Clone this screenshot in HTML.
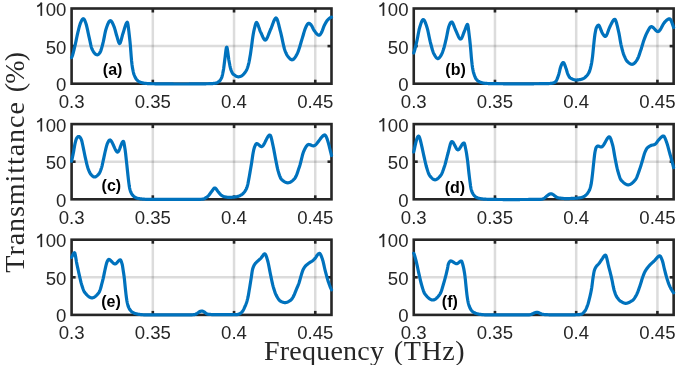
<!DOCTYPE html>
<html><head><meta charset="utf-8"><style>
html,body{margin:0;padding:0;background:#fff;width:685px;height:365px;overflow:hidden}
svg{display:block;will-change:transform}
.tk{font-family:"Liberation Sans",sans-serif;font-size:18.6px;fill:#262626}
.pl{font-family:"Liberation Sans",sans-serif;font-size:16px;font-weight:bold;fill:#000}
.al{font-family:"Liberation Serif",serif;font-size:28px;fill:#262626}
</style></head><body>
<svg width="685" height="365" viewBox="0 0 685 365"><rect width="685" height="365" fill="#fff"/><line x1="152.82" y1="8.50" x2="152.82" y2="83.70" stroke="#262626" stroke-opacity="0.16" stroke-width="2.5"/><line x1="234.04" y1="8.50" x2="234.04" y2="83.70" stroke="#262626" stroke-opacity="0.16" stroke-width="2.5"/><line x1="315.26" y1="8.50" x2="315.26" y2="83.70" stroke="#262626" stroke-opacity="0.16" stroke-width="2.5"/><line x1="71.60" y1="46.10" x2="331.50" y2="46.10" stroke="#262626" stroke-opacity="0.16" stroke-width="2.5"/><rect x="71.60" y="8.50" width="259.90" height="75.20" fill="none" stroke="#262626" stroke-width="2.6"/><line x1="152.82" y1="83.70" x2="152.82" y2="79.70" stroke="#262626" stroke-width="2.6"/><line x1="152.82" y1="8.50" x2="152.82" y2="12.50" stroke="#262626" stroke-width="2.6"/><line x1="234.04" y1="83.70" x2="234.04" y2="79.70" stroke="#262626" stroke-width="2.6"/><line x1="234.04" y1="8.50" x2="234.04" y2="12.50" stroke="#262626" stroke-width="2.6"/><line x1="315.26" y1="83.70" x2="315.26" y2="79.70" stroke="#262626" stroke-width="2.6"/><line x1="315.26" y1="8.50" x2="315.26" y2="12.50" stroke="#262626" stroke-width="2.6"/><line x1="71.60" y1="46.10" x2="75.60" y2="46.10" stroke="#262626" stroke-width="2.6"/><line x1="331.50" y1="46.10" x2="327.50" y2="46.10" stroke="#262626" stroke-width="2.6"/><text x="71.60" y="107.90" text-anchor="middle" class="tk">0.3</text><text x="152.82" y="107.90" text-anchor="middle" class="tk">0.35</text><text x="234.04" y="107.90" text-anchor="middle" class="tk">0.4</text><text x="315.26" y="107.90" text-anchor="middle" class="tk">0.45</text><text x="66.40" y="91.10" text-anchor="end" class="tk">0</text><text x="66.40" y="53.50" text-anchor="end" class="tk">50</text><text x="66.40" y="15.90" text-anchor="end" class="tk">00</text><path d="M41.30,2.70 V15.90" stroke="#262626" stroke-width="1.75" fill="none"/><path d="M41.70,2.80 Q40.00,5.20 37.20,6.50" stroke="#262626" stroke-width="1.7" fill="none"/><path d="M71.60,57.50 L72.00,56.80 L72.40,55.71 L72.80,54.43 L73.20,52.99 L73.60,51.43 L74.00,49.80 L74.40,48.12 L74.80,46.43 L75.20,44.76 L75.60,42.98 L76.00,41.11 L76.40,39.20 L76.80,37.28 L77.20,35.39 L77.60,33.59 L78.00,31.90 L78.40,30.28 L78.80,28.67 L79.20,27.11 L79.60,25.66 L80.00,24.36 L80.40,23.24 L80.80,22.30 L81.20,21.40 L81.60,20.57 L82.00,19.86 L82.40,19.29 L82.80,18.89 L83.20,18.71 L83.60,18.78 L84.00,19.13 L84.40,19.73 L84.80,20.52 L85.20,21.47 L85.60,22.55 L86.00,23.70 L86.40,25.02 L86.80,26.59 L87.20,28.34 L87.60,30.20 L88.00,32.11 L88.40,34.01 L88.80,35.84 L89.20,37.57 L89.60,39.40 L90.00,41.29 L90.40,43.18 L90.80,44.97 L91.20,46.59 L91.60,47.96 L92.00,49.00 L92.40,49.82 L92.80,50.58 L93.20,51.29 L93.60,51.93 L94.00,52.52 L94.40,53.05 L94.80,53.51 L95.20,53.90 L95.60,54.23 L96.00,54.48 L96.40,54.67 L96.80,54.77 L97.20,54.80 L97.60,54.73 L98.00,54.56 L98.40,54.30 L98.80,53.96 L99.20,53.54 L99.60,53.05 L100.00,52.50 L100.40,51.78 L100.80,50.80 L101.20,49.62 L101.60,48.27 L102.00,46.82 L102.40,45.30 L102.80,43.76 L103.20,42.20 L103.60,40.40 L104.00,38.41 L104.40,36.33 L104.80,34.26 L105.20,32.32 L105.60,30.60 L106.00,29.20 L106.40,28.01 L106.80,26.85 L107.20,25.74 L107.60,24.69 L108.00,23.72 L108.40,22.86 L108.80,22.11 L109.20,21.50 L109.60,21.05 L110.00,20.77 L110.40,20.69 L110.80,20.81 L111.20,21.10 L111.60,21.56 L112.00,22.15 L112.40,22.86 L112.80,23.67 L113.20,24.56 L113.60,25.51 L114.00,26.50 L114.40,27.61 L114.80,28.89 L115.20,30.30 L115.60,31.78 L116.00,33.27 L116.40,34.72 L116.80,36.07 L117.20,37.33 L117.60,38.71 L118.00,40.12 L118.40,41.44 L118.80,42.54 L119.20,43.28 L119.60,43.53 L120.00,43.21 L120.40,42.45 L120.80,41.33 L121.20,39.97 L121.60,38.44 L122.00,36.86 L122.40,35.32 L122.80,33.92 L123.20,32.70 L123.60,31.44 L124.00,30.12 L124.40,28.78 L124.80,27.47 L125.20,26.22 L125.60,25.07 L126.00,24.05 L126.40,23.21 L126.80,22.58 L127.20,22.20 L127.60,22.75 L128.00,24.64 L128.40,27.48 L128.80,30.91 L129.20,34.54 L129.60,38.00 L130.00,41.70 L130.40,46.00 L130.80,51.02 L131.20,56.41 L131.60,61.00 L132.00,64.51 L132.40,67.37 L132.80,69.53 L133.20,71.50 L133.60,73.22 L134.00,74.50 L134.40,75.49 L134.80,76.44 L135.20,77.33 L135.60,78.12 L136.00,78.78 L136.40,79.30 L136.80,79.73 L137.20,80.15 L137.60,80.55 L138.00,80.91 L138.40,81.23 L138.80,81.49 L139.20,81.70 L139.60,81.89 L140.00,82.07 L140.40,82.24 L140.80,82.39 L141.20,82.52 L141.60,82.62 L142.00,82.72 L142.40,82.82 L142.80,82.91 L143.20,83.00 L143.60,83.08 L144.00,83.16 L144.40,83.22 L144.80,83.28 L145.20,83.32 L145.60,83.36 L146.00,83.40 L146.40,83.45 L146.80,83.49 L147.20,83.53 L147.60,83.56 L148.00,83.60 L148.40,83.63 L148.80,83.65 L149.20,83.67 L149.60,83.69 L150.00,83.70 L150.40,83.71 L150.80,83.71 L151.20,83.72 L151.60,83.73 L152.00,83.73 L152.40,83.74 L152.80,83.75 L153.20,83.75 L153.60,83.76 L154.00,83.77 L154.40,83.77 L154.80,83.78 L155.20,83.79 L155.60,83.79 L156.00,83.80 L156.40,83.80 L156.80,83.81 L157.20,83.82 L157.60,83.82 L158.00,83.83 L158.40,83.83 L158.80,83.84 L159.20,83.84 L159.60,83.85 L160.00,83.85 L160.40,83.86 L160.80,83.86 L161.20,83.87 L161.60,83.87 L162.00,83.88 L162.40,83.88 L162.80,83.89 L163.20,83.89 L163.60,83.90 L164.00,83.90 L164.40,83.90 L164.80,83.91 L165.20,83.91 L165.60,83.92 L166.00,83.92 L166.40,83.92 L166.80,83.93 L167.20,83.93 L167.60,83.93 L168.00,83.94 L168.40,83.94 L168.80,83.94 L169.20,83.95 L169.60,83.95 L170.00,83.95 L170.40,83.96 L170.80,83.96 L171.20,83.96 L171.60,83.96 L172.00,83.97 L172.40,83.97 L172.80,83.97 L173.20,83.97 L173.60,83.98 L174.00,83.98 L174.40,83.98 L174.80,83.98 L175.20,83.98 L175.60,83.98 L176.00,83.99 L176.40,83.99 L176.80,83.99 L177.20,83.99 L177.60,83.99 L178.00,83.99 L178.40,83.99 L178.80,83.99 L179.20,83.99 L179.60,83.99 L180.00,83.99 L180.40,83.99 L180.80,83.99 L181.20,83.99 L181.60,83.99 L182.00,83.99 L182.40,83.99 L182.80,83.99 L183.20,83.99 L183.60,83.99 L184.00,83.99 L184.40,83.99 L184.80,83.99 L185.20,83.99 L185.60,83.99 L186.00,83.99 L186.40,83.99 L186.80,83.98 L187.20,83.98 L187.60,83.98 L188.00,83.98 L188.40,83.98 L188.80,83.98 L189.20,83.97 L189.60,83.97 L190.00,83.97 L190.40,83.97 L190.80,83.96 L191.20,83.96 L191.60,83.96 L192.00,83.96 L192.40,83.95 L192.80,83.95 L193.20,83.95 L193.60,83.94 L194.00,83.94 L194.40,83.94 L194.80,83.93 L195.20,83.93 L195.60,83.92 L196.00,83.92 L196.40,83.92 L196.80,83.91 L197.20,83.91 L197.60,83.90 L198.00,83.90 L198.40,83.89 L198.80,83.89 L199.20,83.88 L199.60,83.88 L200.00,83.87 L200.40,83.87 L200.80,83.86 L201.20,83.86 L201.60,83.85 L202.00,83.84 L202.40,83.84 L202.80,83.83 L203.20,83.83 L203.60,83.82 L204.00,83.81 L204.40,83.81 L204.80,83.80 L205.20,83.79 L205.60,83.79 L206.00,83.78 L206.40,83.77 L206.80,83.76 L207.20,83.76 L207.60,83.75 L208.00,83.74 L208.40,83.73 L208.80,83.72 L209.20,83.72 L209.60,83.71 L210.00,83.70 L210.40,83.69 L210.80,83.67 L211.20,83.65 L211.60,83.62 L212.00,83.60 L212.40,83.57 L212.80,83.54 L213.20,83.50 L213.60,83.45 L214.00,83.40 L214.40,83.34 L214.80,83.28 L215.20,83.22 L215.60,83.16 L216.00,83.10 L216.40,83.01 L216.80,82.86 L217.20,82.68 L217.60,82.46 L218.00,82.22 L218.40,81.97 L218.80,81.72 L219.20,81.46 L219.60,81.08 L220.00,80.58 L220.40,79.98 L220.80,79.30 L221.20,78.57 L221.60,77.79 L222.00,76.66 L222.40,75.12 L222.80,73.26 L223.20,71.17 L223.60,68.91 L224.00,66.06 L224.40,62.78 L224.80,59.50 L225.20,56.46 L225.60,53.00 L226.00,49.75 L226.40,47.52 L226.80,47.09 L227.20,48.34 L227.60,50.67 L228.00,53.65 L228.40,56.82 L228.80,59.75 L229.20,62.00 L229.60,64.07 L230.00,66.09 L230.40,67.89 L230.80,69.32 L231.20,70.37 L231.60,71.35 L232.00,72.24 L232.40,73.03 L232.80,73.67 L233.20,74.14 L233.60,74.44 L234.00,74.71 L234.40,74.99 L234.80,75.27 L235.20,75.54 L235.60,75.79 L236.00,76.03 L236.40,76.25 L236.80,76.44 L237.20,76.59 L237.60,76.71 L238.00,76.78 L238.40,76.80 L238.80,76.78 L239.20,76.73 L239.60,76.65 L240.00,76.55 L240.40,76.43 L240.80,76.28 L241.20,76.11 L241.60,75.88 L242.00,75.61 L242.40,75.30 L242.80,74.97 L243.20,74.62 L243.60,74.22 L244.00,73.77 L244.40,73.27 L244.80,72.76 L245.20,72.23 L245.60,71.63 L246.00,70.95 L246.40,70.21 L246.80,69.42 L247.20,68.54 L247.60,67.44 L248.00,66.13 L248.40,64.66 L248.80,63.09 L249.20,61.25 L249.60,59.12 L250.00,56.80 L250.40,54.39 L250.80,51.74 L251.20,48.90 L251.60,46.00 L252.00,42.95 L252.40,39.82 L252.80,37.00 L253.20,34.53 L253.60,32.26 L254.00,30.32 L254.40,28.72 L254.80,27.08 L255.20,25.46 L255.60,24.05 L256.00,22.99 L256.40,22.46 L256.80,22.60 L257.20,23.15 L257.60,23.93 L258.00,24.90 L258.40,25.99 L258.80,27.16 L259.20,28.36 L259.60,29.53 L260.00,30.62 L260.40,31.58 L260.80,32.40 L261.20,33.25 L261.60,34.16 L262.00,35.08 L262.40,36.00 L262.80,36.88 L263.20,37.71 L263.60,38.46 L264.00,39.09 L264.40,39.59 L264.80,39.92 L265.20,40.07 L265.60,40.00 L266.00,39.71 L266.40,39.24 L266.80,38.61 L267.20,37.84 L267.60,36.96 L268.00,36.00 L268.40,34.99 L268.80,33.94 L269.20,32.88 L269.60,31.84 L270.00,30.84 L270.40,29.92 L270.80,29.03 L271.20,28.06 L271.60,27.02 L272.00,25.95 L272.40,24.85 L272.80,23.76 L273.20,22.70 L273.60,21.68 L274.00,20.74 L274.40,19.89 L274.80,19.16 L275.20,18.57 L275.60,18.15 L276.00,17.93 L276.40,18.10 L276.80,18.63 L277.20,19.48 L277.60,20.58 L278.00,21.89 L278.40,23.36 L278.80,24.94 L279.20,26.57 L279.60,28.21 L280.00,29.80 L280.40,31.30 L280.80,32.82 L281.20,34.51 L281.60,36.32 L282.00,38.20 L282.40,40.12 L282.80,42.03 L283.20,43.89 L283.60,45.66 L284.00,47.29 L284.40,48.76 L284.80,50.00 L285.20,51.09 L285.60,52.10 L286.00,53.04 L286.40,53.90 L286.80,54.68 L287.20,55.38 L287.60,55.98 L288.00,56.50 L288.40,56.97 L288.80,57.44 L289.20,57.90 L289.60,58.33 L290.00,58.73 L290.40,59.08 L290.80,59.37 L291.20,59.59 L291.60,59.74 L292.00,59.80 L292.40,59.76 L292.80,59.63 L293.20,59.40 L293.60,59.10 L294.00,58.72 L294.40,58.27 L294.80,57.75 L295.20,57.18 L295.60,56.56 L296.00,55.90 L296.40,55.19 L296.80,54.46 L297.20,53.69 L297.60,52.88 L298.00,51.94 L298.40,50.89 L298.80,49.75 L299.20,48.53 L299.60,47.25 L300.00,45.92 L300.40,44.56 L300.80,43.19 L301.20,41.82 L301.60,40.47 L302.00,39.15 L302.40,37.88 L302.80,36.57 L303.20,35.19 L303.60,33.80 L304.00,32.42 L304.40,31.09 L304.80,29.85 L305.20,28.73 L305.60,27.77 L306.00,26.88 L306.40,26.03 L306.80,25.25 L307.20,24.57 L307.60,24.00 L308.00,23.59 L308.40,23.35 L308.80,23.30 L309.20,23.37 L309.60,23.55 L310.00,23.83 L310.40,24.19 L310.80,24.62 L311.20,25.10 L311.60,25.64 L312.00,26.31 L312.40,27.10 L312.80,27.94 L313.20,28.78 L313.60,29.55 L314.00,30.20 L314.40,30.76 L314.80,31.32 L315.20,31.87 L315.60,32.41 L316.00,32.91 L316.40,33.39 L316.80,33.82 L317.20,34.21 L317.60,34.55 L318.00,34.82 L318.40,35.03 L318.80,35.16 L319.20,35.20 L319.60,35.04 L320.00,34.70 L320.40,34.22 L320.80,33.64 L321.20,33.00 L321.60,32.32 L322.00,31.49 L322.40,30.48 L322.80,29.38 L323.20,28.24 L323.60,27.14 L324.00,26.14 L324.40,25.31 L324.80,24.53 L325.20,23.77 L325.60,23.04 L326.00,22.34 L326.40,21.67 L326.80,21.06 L327.20,20.51 L327.60,20.02 L328.00,19.60 L328.40,19.23 L328.80,18.86 L329.20,18.51 L329.60,18.18 L330.00,17.88 L330.40,17.63 L330.80,17.42 L331.20,17.27 L331.50,17.20" fill="none" stroke="#0072BD" stroke-width="3.2" stroke-linejoin="round" stroke-linecap="round"/><line x1="494.97" y1="8.50" x2="494.97" y2="83.70" stroke="#262626" stroke-opacity="0.16" stroke-width="2.5"/><line x1="576.19" y1="8.50" x2="576.19" y2="83.70" stroke="#262626" stroke-opacity="0.16" stroke-width="2.5"/><line x1="657.41" y1="8.50" x2="657.41" y2="83.70" stroke="#262626" stroke-opacity="0.16" stroke-width="2.5"/><line x1="413.75" y1="46.10" x2="673.65" y2="46.10" stroke="#262626" stroke-opacity="0.16" stroke-width="2.5"/><rect x="413.75" y="8.50" width="259.90" height="75.20" fill="none" stroke="#262626" stroke-width="2.6"/><line x1="494.97" y1="83.70" x2="494.97" y2="79.70" stroke="#262626" stroke-width="2.6"/><line x1="494.97" y1="8.50" x2="494.97" y2="12.50" stroke="#262626" stroke-width="2.6"/><line x1="576.19" y1="83.70" x2="576.19" y2="79.70" stroke="#262626" stroke-width="2.6"/><line x1="576.19" y1="8.50" x2="576.19" y2="12.50" stroke="#262626" stroke-width="2.6"/><line x1="657.41" y1="83.70" x2="657.41" y2="79.70" stroke="#262626" stroke-width="2.6"/><line x1="657.41" y1="8.50" x2="657.41" y2="12.50" stroke="#262626" stroke-width="2.6"/><line x1="413.75" y1="46.10" x2="417.75" y2="46.10" stroke="#262626" stroke-width="2.6"/><line x1="673.65" y1="46.10" x2="669.65" y2="46.10" stroke="#262626" stroke-width="2.6"/><text x="413.75" y="107.90" text-anchor="middle" class="tk">0.3</text><text x="494.97" y="107.90" text-anchor="middle" class="tk">0.35</text><text x="576.19" y="107.90" text-anchor="middle" class="tk">0.4</text><text x="657.41" y="107.90" text-anchor="middle" class="tk">0.45</text><text x="408.55" y="91.10" text-anchor="end" class="tk">0</text><text x="408.55" y="53.50" text-anchor="end" class="tk">50</text><text x="408.55" y="15.90" text-anchor="end" class="tk">00</text><path d="M383.45,2.70 V15.90" stroke="#262626" stroke-width="1.75" fill="none"/><path d="M383.85,2.80 Q382.15,5.20 379.35,6.50" stroke="#262626" stroke-width="1.7" fill="none"/><path d="M413.75,53.00 L414.15,51.84 L414.55,50.46 L414.95,49.00 L415.35,47.45 L415.75,45.84 L416.15,44.18 L416.55,42.48 L416.95,40.73 L417.35,38.80 L417.75,36.70 L418.15,34.55 L418.55,32.44 L418.95,30.47 L419.35,28.73 L419.75,27.29 L420.15,25.94 L420.55,24.65 L420.95,23.44 L421.35,22.33 L421.75,21.38 L422.15,20.59 L422.55,20.02 L422.95,19.68 L423.35,19.61 L423.75,19.80 L424.15,20.22 L424.55,20.84 L424.95,21.64 L425.35,22.59 L425.75,23.66 L426.15,24.82 L426.55,26.05 L426.95,27.32 L427.35,28.66 L427.75,30.22 L428.15,31.98 L428.55,33.86 L428.95,35.81 L429.35,37.75 L429.75,39.64 L430.15,41.40 L430.55,42.99 L430.95,44.50 L431.35,46.02 L431.75,47.51 L432.15,48.95 L432.55,50.30 L432.95,51.53 L433.35,52.61 L433.75,53.51 L434.15,54.25 L434.55,54.97 L434.95,55.66 L435.35,56.31 L435.75,56.91 L436.15,57.44 L436.55,57.89 L436.95,58.25 L437.35,58.49 L437.75,58.60 L438.15,58.57 L438.55,58.40 L438.95,58.09 L439.35,57.69 L439.75,57.21 L440.15,56.68 L440.55,56.11 L440.95,55.52 L441.35,54.81 L441.75,53.98 L442.15,53.06 L442.55,52.05 L442.95,50.97 L443.35,49.84 L443.75,48.62 L444.15,47.23 L444.55,45.71 L444.95,44.09 L445.35,42.41 L445.75,40.71 L446.15,39.01 L446.55,37.22 L446.95,35.23 L447.35,33.14 L447.75,31.08 L448.15,29.17 L448.55,27.53 L448.95,26.26 L449.35,25.22 L449.75,24.27 L450.15,23.44 L450.55,22.77 L450.95,22.28 L451.35,22.01 L451.75,21.98 L452.15,22.23 L452.55,22.76 L452.95,23.49 L453.35,24.37 L453.75,25.35 L454.15,26.40 L454.55,27.47 L454.95,28.52 L455.35,29.51 L455.75,30.40 L456.15,31.24 L456.55,32.14 L456.95,33.08 L457.35,34.04 L457.75,34.99 L458.15,35.90 L458.55,36.74 L458.95,37.49 L459.35,38.12 L459.75,38.61 L460.15,38.92 L460.55,39.04 L460.95,38.93 L461.35,38.55 L461.75,37.93 L462.15,37.13 L462.55,36.18 L462.95,35.13 L463.35,34.02 L463.75,32.91 L464.15,31.83 L464.55,30.84 L464.95,29.91 L465.35,28.86 L465.75,27.74 L466.15,26.64 L466.55,25.65 L466.95,24.86 L467.35,24.34 L467.75,24.78 L468.15,26.79 L468.55,29.78 L468.95,33.18 L469.35,36.38 L469.75,39.71 L470.15,43.49 L470.55,47.62 L470.95,52.47 L471.35,57.35 L471.75,61.42 L472.15,64.90 L472.55,67.71 L472.95,69.90 L473.35,71.83 L473.75,73.35 L474.15,74.53 L474.55,75.67 L474.95,76.74 L475.35,77.68 L475.75,78.44 L476.15,78.99 L476.55,79.48 L476.95,79.95 L477.35,80.38 L477.75,80.77 L478.15,81.08 L478.55,81.33 L478.95,81.53 L479.35,81.74 L479.75,81.93 L480.15,82.11 L480.55,82.26 L480.95,82.39 L481.35,82.49 L481.75,82.61 L482.15,82.72 L482.55,82.83 L482.95,82.93 L483.35,83.03 L483.75,83.11 L484.15,83.19 L484.55,83.25 L484.95,83.30 L485.35,83.33 L485.75,83.36 L486.15,83.39 L486.55,83.42 L486.95,83.45 L487.35,83.48 L487.75,83.51 L488.15,83.53 L488.55,83.55 L488.95,83.57 L489.35,83.58 L489.75,83.59 L490.15,83.60 L490.55,83.61 L490.95,83.62 L491.35,83.62 L491.75,83.63 L492.15,83.64 L492.55,83.64 L492.95,83.65 L493.35,83.66 L493.75,83.66 L494.15,83.67 L494.55,83.67 L494.95,83.68 L495.35,83.69 L495.75,83.69 L496.15,83.70 L496.55,83.70 L496.95,83.71 L497.35,83.71 L497.75,83.72 L498.15,83.72 L498.55,83.73 L498.95,83.73 L499.35,83.74 L499.75,83.74 L500.15,83.75 L500.55,83.75 L500.95,83.75 L501.35,83.76 L501.75,83.76 L502.15,83.77 L502.55,83.77 L502.95,83.77 L503.35,83.78 L503.75,83.78 L504.15,83.79 L504.55,83.79 L504.95,83.79 L505.35,83.80 L505.75,83.80 L506.15,83.80 L506.55,83.80 L506.95,83.81 L507.35,83.81 L507.75,83.81 L508.15,83.81 L508.55,83.82 L508.95,83.82 L509.35,83.82 L509.75,83.82 L510.15,83.83 L510.55,83.83 L510.95,83.83 L511.35,83.83 L511.75,83.83 L512.15,83.83 L512.55,83.84 L512.95,83.84 L513.35,83.84 L513.75,83.84 L514.15,83.84 L514.55,83.84 L514.95,83.84 L515.35,83.84 L515.75,83.84 L516.15,83.84 L516.55,83.84 L516.95,83.85 L517.35,83.85 L517.75,83.85 L518.15,83.85 L518.55,83.85 L518.95,83.85 L519.35,83.85 L519.75,83.85 L520.15,83.85 L520.55,83.84 L520.95,83.84 L521.35,83.84 L521.75,83.84 L522.15,83.84 L522.55,83.84 L522.95,83.84 L523.35,83.84 L523.75,83.84 L524.15,83.84 L524.55,83.83 L524.95,83.83 L525.35,83.83 L525.75,83.83 L526.15,83.83 L526.55,83.83 L526.95,83.82 L527.35,83.82 L527.75,83.82 L528.15,83.82 L528.55,83.82 L528.95,83.81 L529.35,83.81 L529.75,83.81 L530.15,83.81 L530.55,83.80 L530.95,83.80 L531.35,83.80 L531.75,83.79 L532.15,83.79 L532.55,83.79 L532.95,83.78 L533.35,83.78 L533.75,83.78 L534.15,83.77 L534.55,83.77 L534.95,83.77 L535.35,83.76 L535.75,83.76 L536.15,83.76 L536.55,83.75 L536.95,83.75 L537.35,83.74 L537.75,83.74 L538.15,83.73 L538.55,83.73 L538.95,83.73 L539.35,83.72 L539.75,83.72 L540.15,83.71 L540.55,83.71 L540.95,83.70 L541.35,83.70 L541.75,83.69 L542.15,83.69 L542.55,83.68 L542.95,83.68 L543.35,83.67 L543.75,83.66 L544.15,83.66 L544.55,83.65 L544.95,83.65 L545.35,83.64 L545.75,83.64 L546.15,83.63 L546.55,83.62 L546.95,83.62 L547.35,83.61 L547.75,83.60 L548.15,83.60 L548.55,83.58 L548.95,83.56 L549.35,83.52 L549.75,83.49 L550.15,83.45 L550.55,83.40 L550.95,83.36 L551.35,83.32 L551.75,83.27 L552.15,83.20 L552.55,83.12 L552.95,83.01 L553.35,82.89 L553.75,82.76 L554.15,82.62 L554.55,82.47 L554.95,82.32 L555.35,82.06 L555.75,81.57 L556.15,80.98 L556.55,80.29 L556.95,79.44 L557.35,78.45 L557.75,77.35 L558.15,76.18 L558.55,74.97 L558.95,73.71 L559.35,72.17 L559.75,70.44 L560.15,68.73 L560.55,67.24 L560.95,66.12 L561.35,65.13 L561.75,64.23 L562.15,63.47 L562.55,62.91 L562.95,62.58 L563.35,62.55 L563.75,62.86 L564.15,63.48 L564.55,64.36 L564.95,65.40 L565.35,66.54 L565.75,67.70 L566.15,68.83 L566.55,70.09 L566.95,71.44 L567.35,72.73 L567.75,73.85 L568.15,74.74 L568.55,75.57 L568.95,76.33 L569.35,77.00 L569.75,77.54 L570.15,77.91 L570.55,78.13 L570.95,78.33 L571.35,78.53 L571.75,78.73 L572.15,78.93 L572.55,79.11 L572.95,79.29 L573.35,79.45 L573.75,79.59 L574.15,79.72 L574.55,79.83 L574.95,79.91 L575.35,79.97 L575.75,80.00 L576.15,80.00 L576.55,79.98 L576.95,79.96 L577.35,79.93 L577.75,79.90 L578.15,79.86 L578.55,79.81 L578.95,79.76 L579.35,79.71 L579.75,79.64 L580.15,79.57 L580.55,79.49 L580.95,79.39 L581.35,79.28 L581.75,79.16 L582.15,79.02 L582.55,78.88 L582.95,78.72 L583.35,78.56 L583.75,78.38 L584.15,78.14 L584.55,77.84 L584.95,77.50 L585.35,77.12 L585.75,76.73 L586.15,76.34 L586.55,75.95 L586.95,75.53 L587.35,75.04 L587.75,74.50 L588.15,73.90 L588.55,73.26 L588.95,72.59 L589.35,71.76 L589.75,70.63 L590.15,69.27 L590.55,67.77 L590.95,66.20 L591.35,64.42 L591.75,62.19 L592.15,59.56 L592.55,56.61 L592.95,52.79 L593.35,48.49 L593.75,44.60 L594.15,40.79 L594.55,37.23 L594.95,34.30 L595.35,32.00 L595.75,29.97 L596.15,28.38 L596.55,27.41 L596.95,26.72 L597.35,26.08 L597.75,25.56 L598.15,25.24 L598.55,25.17 L598.95,25.44 L599.35,26.04 L599.75,26.84 L600.15,27.80 L600.55,28.84 L600.95,29.92 L601.35,30.97 L601.75,31.93 L602.15,32.74 L602.55,33.41 L602.95,34.06 L603.35,34.69 L603.75,35.27 L604.15,35.76 L604.55,36.13 L604.95,36.36 L605.35,36.40 L605.75,36.24 L606.15,35.83 L606.55,35.18 L606.95,34.35 L607.35,33.37 L607.75,32.30 L608.15,31.18 L608.55,30.05 L608.95,28.97 L609.35,27.97 L609.75,27.10 L610.15,26.27 L610.55,25.43 L610.95,24.58 L611.35,23.75 L611.75,22.94 L612.15,22.17 L612.55,21.46 L612.95,20.83 L613.35,20.28 L613.75,19.83 L614.15,19.51 L614.55,19.31 L614.95,19.37 L615.35,19.83 L615.75,20.62 L616.15,21.71 L616.55,23.03 L616.95,24.54 L617.35,26.18 L617.75,27.90 L618.15,29.65 L618.55,31.37 L618.95,33.13 L619.35,35.22 L619.75,37.55 L620.15,39.95 L620.55,42.27 L620.95,44.37 L621.35,46.12 L621.75,47.74 L622.15,49.30 L622.55,50.78 L622.95,52.17 L623.35,53.45 L623.75,54.62 L624.15,55.65 L624.55,56.57 L624.95,57.46 L625.35,58.33 L625.75,59.15 L626.15,59.90 L626.55,60.57 L626.95,61.12 L627.35,61.55 L627.75,61.91 L628.15,62.27 L628.55,62.61 L628.95,62.93 L629.35,63.23 L629.75,63.49 L630.15,63.73 L630.55,63.93 L630.95,64.10 L631.35,64.21 L631.75,64.29 L632.15,64.31 L632.55,64.27 L632.95,64.15 L633.35,63.97 L633.75,63.72 L634.15,63.41 L634.55,63.04 L634.95,62.62 L635.35,62.16 L635.75,61.66 L636.15,61.13 L636.55,60.56 L636.95,59.98 L637.35,59.36 L637.75,58.61 L638.15,57.73 L638.55,56.72 L638.95,55.63 L639.35,54.47 L639.75,53.27 L640.15,52.05 L640.55,50.84 L640.95,49.65 L641.35,48.43 L641.75,47.13 L642.15,45.80 L642.55,44.45 L642.95,43.11 L643.35,41.82 L643.75,40.61 L644.15,39.49 L644.55,38.41 L644.95,37.37 L645.35,36.36 L645.75,35.39 L646.15,34.47 L646.55,33.60 L646.95,32.79 L647.35,32.02 L647.75,31.24 L648.15,30.46 L648.55,29.70 L648.95,28.98 L649.35,28.33 L649.75,27.76 L650.15,27.29 L650.55,26.94 L650.95,26.74 L651.35,26.67 L651.75,26.70 L652.15,26.84 L652.55,27.06 L652.95,27.35 L653.35,27.70 L653.75,28.09 L654.15,28.52 L654.55,28.96 L654.95,29.41 L655.35,29.85 L655.75,30.26 L656.15,30.65 L656.55,30.98 L656.95,31.25 L657.35,31.44 L657.75,31.55 L658.15,31.55 L658.55,31.44 L658.95,31.19 L659.35,30.83 L659.75,30.35 L660.15,29.79 L660.55,29.15 L660.95,28.46 L661.35,27.72 L661.75,26.96 L662.15,26.20 L662.55,25.44 L662.95,24.72 L663.35,24.03 L663.75,23.41 L664.15,22.86 L664.55,22.38 L664.95,21.91 L665.35,21.47 L665.75,21.05 L666.15,20.65 L666.55,20.29 L666.95,19.96 L667.35,19.66 L667.75,19.41 L668.15,19.19 L668.55,19.02 L668.95,18.89 L669.35,18.82 L669.75,18.83 L670.15,19.10 L670.55,19.59 L670.95,20.28 L671.35,21.14 L671.75,22.12 L672.15,23.21 L672.55,24.37 L672.95,25.56 L673.35,26.76 L673.60,27.50" fill="none" stroke="#0072BD" stroke-width="3.2" stroke-linejoin="round" stroke-linecap="round"/><line x1="152.82" y1="124.10" x2="152.82" y2="199.30" stroke="#262626" stroke-opacity="0.16" stroke-width="2.5"/><line x1="234.04" y1="124.10" x2="234.04" y2="199.30" stroke="#262626" stroke-opacity="0.16" stroke-width="2.5"/><line x1="315.26" y1="124.10" x2="315.26" y2="199.30" stroke="#262626" stroke-opacity="0.16" stroke-width="2.5"/><line x1="71.60" y1="161.70" x2="331.50" y2="161.70" stroke="#262626" stroke-opacity="0.16" stroke-width="2.5"/><rect x="71.60" y="124.10" width="259.90" height="75.20" fill="none" stroke="#262626" stroke-width="2.6"/><line x1="152.82" y1="199.30" x2="152.82" y2="195.30" stroke="#262626" stroke-width="2.6"/><line x1="152.82" y1="124.10" x2="152.82" y2="128.10" stroke="#262626" stroke-width="2.6"/><line x1="234.04" y1="199.30" x2="234.04" y2="195.30" stroke="#262626" stroke-width="2.6"/><line x1="234.04" y1="124.10" x2="234.04" y2="128.10" stroke="#262626" stroke-width="2.6"/><line x1="315.26" y1="199.30" x2="315.26" y2="195.30" stroke="#262626" stroke-width="2.6"/><line x1="315.26" y1="124.10" x2="315.26" y2="128.10" stroke="#262626" stroke-width="2.6"/><line x1="71.60" y1="161.70" x2="75.60" y2="161.70" stroke="#262626" stroke-width="2.6"/><line x1="331.50" y1="161.70" x2="327.50" y2="161.70" stroke="#262626" stroke-width="2.6"/><text x="71.60" y="223.50" text-anchor="middle" class="tk">0.3</text><text x="152.82" y="223.50" text-anchor="middle" class="tk">0.35</text><text x="234.04" y="223.50" text-anchor="middle" class="tk">0.4</text><text x="315.26" y="223.50" text-anchor="middle" class="tk">0.45</text><text x="66.40" y="206.70" text-anchor="end" class="tk">0</text><text x="66.40" y="169.10" text-anchor="end" class="tk">50</text><text x="66.40" y="131.50" text-anchor="end" class="tk">00</text><path d="M41.30,118.30 V131.50" stroke="#262626" stroke-width="1.75" fill="none"/><path d="M41.70,118.40 Q40.00,120.80 37.20,122.10" stroke="#262626" stroke-width="1.7" fill="none"/><path d="M71.60,161.20 L72.00,159.41 L72.40,157.54 L72.80,155.60 L73.20,153.62 L73.60,151.58 L74.00,149.30 L74.40,146.91 L74.80,144.70 L75.20,142.89 L75.60,141.30 L76.00,139.89 L76.40,138.76 L76.80,138.00 L77.20,137.50 L77.60,137.07 L78.00,136.74 L78.40,136.54 L78.80,136.51 L79.20,136.63 L79.60,136.90 L80.00,137.31 L80.40,137.83 L80.80,138.47 L81.20,139.20 L81.60,140.26 L82.00,141.77 L82.40,143.58 L82.80,145.53 L83.20,147.44 L83.60,149.29 L84.00,151.24 L84.40,153.25 L84.80,155.24 L85.20,157.16 L85.60,158.93 L86.00,160.67 L86.40,162.39 L86.80,164.06 L87.20,165.63 L87.60,167.07 L88.00,168.34 L88.40,169.43 L88.80,170.45 L89.20,171.41 L89.60,172.30 L90.00,173.09 L90.40,173.76 L90.80,174.29 L91.20,174.71 L91.60,175.13 L92.00,175.53 L92.40,175.91 L92.80,176.25 L93.20,176.54 L93.60,176.77 L94.00,176.93 L94.40,177.00 L94.80,176.98 L95.20,176.89 L95.60,176.73 L96.00,176.52 L96.40,176.25 L96.80,175.94 L97.20,175.61 L97.60,175.25 L98.00,174.87 L98.40,174.49 L98.80,174.07 L99.20,173.50 L99.60,172.78 L100.00,171.95 L100.40,171.01 L100.80,169.99 L101.20,168.90 L101.60,167.61 L102.00,166.04 L102.40,164.30 L102.80,162.48 L103.20,160.70 L103.60,158.90 L104.00,157.02 L104.40,155.13 L104.80,153.27 L105.20,151.51 L105.60,149.86 L106.00,148.20 L106.40,146.61 L106.80,145.18 L107.20,143.98 L107.60,143.06 L108.00,142.22 L108.40,141.44 L108.80,140.79 L109.20,140.30 L109.60,140.01 L110.00,139.97 L110.40,140.17 L110.80,140.53 L111.20,141.02 L111.60,141.61 L112.00,142.31 L112.40,143.07 L112.80,143.90 L113.20,144.77 L113.60,145.67 L114.00,146.57 L114.40,147.46 L114.80,148.33 L115.20,149.15 L115.60,149.91 L116.00,150.60 L116.40,151.18 L116.80,151.66 L117.20,152.00 L117.60,152.11 L118.00,151.92 L118.40,151.48 L118.80,150.83 L119.20,150.00 L119.60,149.04 L120.00,147.99 L120.40,146.89 L120.80,145.79 L121.20,144.72 L121.60,143.73 L122.00,142.85 L122.40,142.13 L122.80,141.61 L123.20,141.33 L123.60,141.62 L124.00,143.04 L124.40,145.20 L124.80,147.73 L125.20,150.35 L125.60,153.54 L126.00,157.12 L126.40,160.80 L126.80,164.45 L127.20,168.24 L127.60,172.00 L128.00,175.74 L128.40,179.35 L128.80,182.58 L129.20,185.62 L129.60,188.05 L130.00,189.66 L130.40,191.00 L130.80,192.07 L131.20,192.89 L131.60,193.64 L132.00,194.32 L132.40,194.88 L132.80,195.33 L133.20,195.77 L133.60,196.20 L134.00,196.58 L134.40,196.92 L134.80,197.19 L135.20,197.39 L135.60,197.58 L136.00,197.75 L136.40,197.92 L136.80,198.07 L137.20,198.20 L137.60,198.31 L138.00,198.40 L138.40,198.47 L138.80,198.54 L139.20,198.61 L139.60,198.68 L140.00,198.75 L140.40,198.81 L140.80,198.86 L141.20,198.92 L141.60,198.96 L142.00,199.00 L142.40,199.04 L142.80,199.07 L143.20,199.11 L143.60,199.14 L144.00,199.18 L144.40,199.21 L144.80,199.24 L145.20,199.26 L145.60,199.28 L146.00,199.30 L146.40,199.31 L146.80,199.33 L147.20,199.34 L147.60,199.35 L148.00,199.36 L148.40,199.37 L148.80,199.38 L149.20,199.39 L149.60,199.39 L150.00,199.40 L150.40,199.40 L150.80,199.41 L151.20,199.41 L151.60,199.42 L152.00,199.42 L152.40,199.42 L152.80,199.43 L153.20,199.43 L153.60,199.43 L154.00,199.44 L154.40,199.44 L154.80,199.44 L155.20,199.44 L155.60,199.45 L156.00,199.45 L156.40,199.45 L156.80,199.45 L157.20,199.46 L157.60,199.46 L158.00,199.46 L158.40,199.46 L158.80,199.46 L159.20,199.46 L159.60,199.47 L160.00,199.47 L160.40,199.47 L160.80,199.47 L161.20,199.47 L161.60,199.47 L162.00,199.47 L162.40,199.47 L162.80,199.47 L163.20,199.47 L163.60,199.47 L164.00,199.47 L164.40,199.47 L164.80,199.47 L165.20,199.47 L165.60,199.47 L166.00,199.47 L166.40,199.47 L166.80,199.47 L167.20,199.47 L167.60,199.47 L168.00,199.47 L168.40,199.47 L168.80,199.47 L169.20,199.47 L169.60,199.47 L170.00,199.47 L170.40,199.47 L170.80,199.46 L171.20,199.46 L171.60,199.46 L172.00,199.46 L172.40,199.46 L172.80,199.46 L173.20,199.46 L173.60,199.45 L174.00,199.45 L174.40,199.45 L174.80,199.45 L175.20,199.45 L175.60,199.45 L176.00,199.44 L176.40,199.44 L176.80,199.44 L177.20,199.44 L177.60,199.44 L178.00,199.43 L178.40,199.43 L178.80,199.43 L179.20,199.43 L179.60,199.43 L180.00,199.42 L180.40,199.42 L180.80,199.42 L181.20,199.42 L181.60,199.41 L182.00,199.41 L182.40,199.41 L182.80,199.41 L183.20,199.40 L183.60,199.40 L184.00,199.40 L184.40,199.40 L184.80,199.39 L185.20,199.39 L185.60,199.39 L186.00,199.39 L186.40,199.38 L186.80,199.38 L187.20,199.38 L187.60,199.38 L188.00,199.37 L188.40,199.37 L188.80,199.37 L189.20,199.36 L189.60,199.36 L190.00,199.36 L190.40,199.36 L190.80,199.35 L191.20,199.35 L191.60,199.35 L192.00,199.35 L192.40,199.34 L192.80,199.34 L193.20,199.34 L193.60,199.34 L194.00,199.33 L194.40,199.33 L194.80,199.33 L195.20,199.33 L195.60,199.32 L196.00,199.32 L196.40,199.32 L196.80,199.32 L197.20,199.31 L197.60,199.31 L198.00,199.31 L198.40,199.31 L198.80,199.31 L199.20,199.30 L199.60,199.30 L200.00,199.30 L200.40,199.29 L200.80,199.28 L201.20,199.26 L201.60,199.24 L202.00,199.21 L202.40,199.18 L202.80,199.15 L203.20,199.11 L203.60,199.04 L204.00,198.90 L204.40,198.69 L204.80,198.44 L205.20,198.19 L205.60,197.94 L206.00,197.68 L206.40,197.41 L206.80,197.11 L207.20,196.79 L207.60,196.44 L208.00,196.08 L208.40,195.70 L208.80,195.30 L209.20,194.85 L209.60,194.34 L210.00,193.78 L210.40,193.20 L210.80,192.60 L211.20,192.03 L211.60,191.48 L212.00,190.98 L212.40,190.44 L212.80,189.88 L213.20,189.32 L213.60,188.81 L214.00,188.39 L214.40,188.10 L214.80,187.98 L215.20,188.07 L215.60,188.34 L216.00,188.75 L216.40,189.26 L216.80,189.84 L217.20,190.43 L217.60,191.00 L218.00,191.50 L218.40,191.97 L218.80,192.47 L219.20,192.98 L219.60,193.48 L220.00,193.95 L220.40,194.38 L220.80,194.76 L221.20,195.07 L221.60,195.35 L222.00,195.62 L222.40,195.86 L222.80,196.09 L223.20,196.30 L223.60,196.48 L224.00,196.64 L224.40,196.77 L224.80,196.86 L225.20,196.93 L225.60,197.00 L226.00,197.06 L226.40,197.12 L226.80,197.18 L227.20,197.24 L227.60,197.29 L228.00,197.33 L228.40,197.36 L228.80,197.39 L229.20,197.40 L229.60,197.40 L230.00,197.39 L230.40,197.38 L230.80,197.36 L231.20,197.34 L231.60,197.31 L232.00,197.28 L232.40,197.25 L232.80,197.22 L233.20,197.18 L233.60,197.14 L234.00,197.10 L234.40,197.06 L234.80,197.01 L235.20,196.96 L235.60,196.91 L236.00,196.86 L236.40,196.78 L236.80,196.69 L237.20,196.58 L237.60,196.47 L238.00,196.35 L238.40,196.23 L238.80,196.10 L239.20,195.96 L239.60,195.79 L240.00,195.60 L240.40,195.40 L240.80,195.19 L241.20,194.97 L241.60,194.74 L242.00,194.46 L242.40,194.13 L242.80,193.76 L243.20,193.35 L243.60,192.93 L244.00,192.50 L244.40,192.03 L244.80,191.47 L245.20,190.86 L245.60,190.19 L246.00,189.50 L246.40,188.69 L246.80,187.69 L247.20,186.50 L247.60,185.13 L248.00,183.37 L248.40,181.29 L248.80,179.09 L249.20,176.92 L249.60,174.69 L250.00,172.40 L250.40,170.08 L250.80,167.75 L251.20,165.39 L251.60,162.96 L252.00,160.36 L252.40,157.44 L252.80,154.67 L253.20,152.45 L253.60,150.48 L254.00,148.79 L254.40,147.46 L254.80,146.46 L255.20,145.49 L255.60,144.63 L256.00,143.97 L256.40,143.63 L256.80,143.59 L257.20,143.69 L257.60,143.88 L258.00,144.14 L258.40,144.47 L258.80,144.82 L259.20,145.20 L259.60,145.57 L260.00,145.91 L260.40,146.20 L260.80,146.43 L261.20,146.57 L261.60,146.60 L262.00,146.49 L262.40,146.25 L262.80,145.88 L263.20,145.40 L263.60,144.82 L264.00,144.17 L264.40,143.45 L264.80,142.68 L265.20,141.88 L265.60,141.06 L266.00,140.23 L266.40,139.41 L266.80,138.62 L267.20,137.87 L267.60,137.17 L268.00,136.55 L268.40,136.01 L268.80,135.57 L269.20,135.24 L269.60,135.05 L270.00,135.02 L270.40,135.42 L270.80,136.30 L271.20,137.57 L271.60,139.14 L272.00,140.90 L272.40,142.78 L272.80,144.68 L273.20,146.50 L273.60,148.37 L274.00,150.43 L274.40,152.61 L274.80,154.82 L275.20,157.01 L275.60,159.10 L276.00,161.10 L276.40,163.14 L276.80,165.16 L277.20,167.11 L277.60,168.91 L278.00,170.50 L278.40,171.86 L278.80,173.17 L279.20,174.43 L279.60,175.62 L280.00,176.70 L280.40,177.66 L280.80,178.46 L281.20,179.08 L281.60,179.49 L282.00,179.83 L282.40,180.16 L282.80,180.49 L283.20,180.80 L283.60,181.10 L284.00,181.38 L284.40,181.64 L284.80,181.88 L285.20,182.10 L285.60,182.30 L286.00,182.46 L286.40,182.60 L286.80,182.70 L287.20,182.77 L287.60,182.80 L288.00,182.80 L288.40,182.76 L288.80,182.68 L289.20,182.57 L289.60,182.43 L290.00,182.26 L290.40,182.06 L290.80,181.84 L291.20,181.58 L291.60,181.31 L292.00,181.01 L292.40,180.69 L292.80,180.35 L293.20,179.99 L293.60,179.61 L294.00,179.22 L294.40,178.81 L294.80,178.37 L295.20,177.81 L295.60,177.11 L296.00,176.30 L296.40,175.39 L296.80,174.39 L297.20,173.32 L297.60,172.19 L298.00,171.02 L298.40,169.82 L298.80,168.61 L299.20,167.40 L299.60,166.20 L300.00,164.92 L300.40,163.48 L300.80,161.92 L301.20,160.29 L301.60,158.64 L302.00,157.01 L302.40,155.44 L302.80,154.00 L303.20,152.71 L303.60,151.63 L304.00,150.74 L304.40,149.87 L304.80,149.04 L305.20,148.25 L305.60,147.51 L306.00,146.84 L306.40,146.23 L306.80,145.69 L307.20,145.24 L307.60,144.89 L308.00,144.64 L308.40,144.50 L308.80,144.46 L309.20,144.48 L309.60,144.56 L310.00,144.68 L310.40,144.84 L310.80,145.01 L311.20,145.20 L311.60,145.38 L312.00,145.54 L312.40,145.68 L312.80,145.78 L313.20,145.83 L313.60,145.81 L314.00,145.73 L314.40,145.58 L314.80,145.37 L315.20,145.10 L315.60,144.78 L316.00,144.41 L316.40,144.01 L316.80,143.56 L317.20,143.09 L317.60,142.59 L318.00,142.07 L318.40,141.53 L318.80,140.98 L319.20,140.43 L319.60,139.87 L320.00,139.32 L320.40,138.78 L320.80,138.25 L321.20,137.74 L321.60,137.26 L322.00,136.80 L322.40,136.38 L322.80,136.00 L323.20,135.66 L323.60,135.37 L324.00,135.14 L324.40,134.97 L324.80,134.98 L325.20,135.22 L325.60,135.66 L326.00,136.29 L326.40,137.10 L326.80,138.05 L327.20,139.15 L327.60,140.38 L328.00,141.71 L328.40,143.13 L328.80,144.63 L329.20,146.19 L329.60,147.79 L330.00,149.42 L330.40,151.06 L330.80,152.70 L331.20,154.31 L331.50,155.50" fill="none" stroke="#0072BD" stroke-width="3.2" stroke-linejoin="round" stroke-linecap="round"/><line x1="494.97" y1="124.10" x2="494.97" y2="199.30" stroke="#262626" stroke-opacity="0.16" stroke-width="2.5"/><line x1="576.19" y1="124.10" x2="576.19" y2="199.30" stroke="#262626" stroke-opacity="0.16" stroke-width="2.5"/><line x1="657.41" y1="124.10" x2="657.41" y2="199.30" stroke="#262626" stroke-opacity="0.16" stroke-width="2.5"/><line x1="413.75" y1="161.70" x2="673.65" y2="161.70" stroke="#262626" stroke-opacity="0.16" stroke-width="2.5"/><rect x="413.75" y="124.10" width="259.90" height="75.20" fill="none" stroke="#262626" stroke-width="2.6"/><line x1="494.97" y1="199.30" x2="494.97" y2="195.30" stroke="#262626" stroke-width="2.6"/><line x1="494.97" y1="124.10" x2="494.97" y2="128.10" stroke="#262626" stroke-width="2.6"/><line x1="576.19" y1="199.30" x2="576.19" y2="195.30" stroke="#262626" stroke-width="2.6"/><line x1="576.19" y1="124.10" x2="576.19" y2="128.10" stroke="#262626" stroke-width="2.6"/><line x1="657.41" y1="199.30" x2="657.41" y2="195.30" stroke="#262626" stroke-width="2.6"/><line x1="657.41" y1="124.10" x2="657.41" y2="128.10" stroke="#262626" stroke-width="2.6"/><line x1="413.75" y1="161.70" x2="417.75" y2="161.70" stroke="#262626" stroke-width="2.6"/><line x1="673.65" y1="161.70" x2="669.65" y2="161.70" stroke="#262626" stroke-width="2.6"/><text x="413.75" y="223.50" text-anchor="middle" class="tk">0.3</text><text x="494.97" y="223.50" text-anchor="middle" class="tk">0.35</text><text x="576.19" y="223.50" text-anchor="middle" class="tk">0.4</text><text x="657.41" y="223.50" text-anchor="middle" class="tk">0.45</text><text x="408.55" y="206.70" text-anchor="end" class="tk">0</text><text x="408.55" y="169.10" text-anchor="end" class="tk">50</text><text x="408.55" y="131.50" text-anchor="end" class="tk">00</text><path d="M383.45,118.30 V131.50" stroke="#262626" stroke-width="1.75" fill="none"/><path d="M383.85,118.40 Q382.15,120.80 379.35,122.10" stroke="#262626" stroke-width="1.7" fill="none"/><path d="M413.75,152.00 L414.15,150.17 L414.55,148.30 L414.95,146.44 L415.35,144.62 L415.75,142.89 L416.15,141.27 L416.55,139.81 L416.95,138.54 L417.35,137.50 L417.75,136.73 L418.15,136.26 L418.55,136.14 L418.95,136.40 L419.35,137.07 L419.75,138.12 L420.15,139.47 L420.55,141.01 L420.95,142.65 L421.35,144.31 L421.75,146.02 L422.15,147.84 L422.55,149.72 L422.95,151.63 L423.35,153.53 L423.75,155.38 L424.15,157.16 L424.55,158.95 L424.95,160.75 L425.35,162.52 L425.75,164.21 L426.15,165.80 L426.55,167.23 L426.95,168.56 L427.35,169.86 L427.75,171.12 L428.15,172.31 L428.55,173.38 L428.95,174.32 L429.35,175.09 L429.75,175.66 L430.15,176.15 L430.55,176.62 L430.95,177.08 L431.35,177.52 L431.75,177.94 L432.15,178.32 L432.55,178.68 L432.95,178.99 L433.35,179.26 L433.75,179.48 L434.15,179.65 L434.55,179.75 L434.95,179.80 L435.35,179.78 L435.75,179.70 L436.15,179.57 L436.55,179.39 L436.95,179.16 L437.35,178.89 L437.75,178.58 L438.15,178.23 L438.55,177.86 L438.95,177.46 L439.35,177.03 L439.75,176.59 L440.15,176.13 L440.55,175.66 L440.95,175.13 L441.35,174.47 L441.75,173.69 L442.15,172.80 L442.55,171.83 L442.95,170.78 L443.35,169.68 L443.75,168.53 L444.15,167.34 L444.55,166.15 L444.95,164.89 L445.35,163.50 L445.75,162.02 L446.15,160.46 L446.55,158.87 L446.95,157.28 L447.35,155.72 L447.75,154.23 L448.15,152.79 L448.55,151.21 L448.95,149.55 L449.35,147.89 L449.75,146.29 L450.15,144.81 L450.55,143.55 L450.95,142.55 L451.35,141.90 L451.75,141.65 L452.15,141.66 L452.55,141.88 L452.95,142.27 L453.35,142.80 L453.75,143.45 L454.15,144.17 L454.55,144.96 L454.95,145.77 L455.35,146.58 L455.75,147.36 L456.15,148.08 L456.55,148.72 L456.95,149.23 L457.35,149.60 L457.75,149.79 L458.15,149.79 L458.55,149.62 L458.95,149.31 L459.35,148.87 L459.75,148.34 L460.15,147.73 L460.55,147.08 L460.95,146.40 L461.35,145.73 L461.75,145.07 L462.15,144.47 L462.55,143.94 L462.95,143.50 L463.35,143.19 L463.75,143.02 L464.15,143.08 L464.55,143.88 L464.95,145.35 L465.35,147.23 L465.75,149.26 L466.15,151.25 L466.55,153.52 L466.95,156.14 L467.35,159.02 L467.75,162.10 L468.15,165.74 L468.55,169.69 L468.95,173.30 L469.35,176.67 L469.75,179.86 L470.15,182.91 L470.55,185.91 L470.95,188.28 L471.35,189.86 L471.75,191.17 L472.15,192.19 L472.55,192.98 L472.95,193.73 L473.35,194.40 L473.75,194.94 L474.15,195.39 L474.55,195.83 L474.95,196.25 L475.35,196.64 L475.75,196.97 L476.15,197.23 L476.55,197.41 L476.95,197.58 L477.35,197.74 L477.75,197.89 L478.15,198.03 L478.55,198.16 L478.95,198.27 L479.35,198.37 L479.75,198.45 L480.15,198.53 L480.55,198.61 L480.95,198.70 L481.35,198.77 L481.75,198.84 L482.15,198.90 L482.55,198.96 L482.95,199.00 L483.35,199.03 L483.75,199.06 L484.15,199.09 L484.55,199.12 L484.95,199.14 L485.35,199.17 L485.75,199.19 L486.15,199.22 L486.55,199.24 L486.95,199.26 L487.35,199.28 L487.75,199.29 L488.15,199.30 L488.55,199.32 L488.95,199.33 L489.35,199.34 L489.75,199.35 L490.15,199.36 L490.55,199.37 L490.95,199.38 L491.35,199.39 L491.75,199.40 L492.15,199.40 L492.55,199.41 L492.95,199.42 L493.35,199.42 L493.75,199.43 L494.15,199.44 L494.55,199.44 L494.95,199.45 L495.35,199.45 L495.75,199.46 L496.15,199.46 L496.55,199.47 L496.95,199.47 L497.35,199.48 L497.75,199.48 L498.15,199.49 L498.55,199.49 L498.95,199.50 L499.35,199.50 L499.75,199.50 L500.15,199.51 L500.55,199.51 L500.95,199.51 L501.35,199.52 L501.75,199.52 L502.15,199.52 L502.55,199.52 L502.95,199.53 L503.35,199.53 L503.75,199.53 L504.15,199.53 L504.55,199.54 L504.95,199.54 L505.35,199.54 L505.75,199.54 L506.15,199.54 L506.55,199.54 L506.95,199.54 L507.35,199.55 L507.75,199.55 L508.15,199.55 L508.55,199.55 L508.95,199.55 L509.35,199.55 L509.75,199.55 L510.15,199.55 L510.55,199.55 L510.95,199.55 L511.35,199.55 L511.75,199.55 L512.15,199.55 L512.55,199.55 L512.95,199.55 L513.35,199.55 L513.75,199.55 L514.15,199.55 L514.55,199.54 L514.95,199.54 L515.35,199.54 L515.75,199.54 L516.15,199.54 L516.55,199.54 L516.95,199.54 L517.35,199.54 L517.75,199.53 L518.15,199.53 L518.55,199.53 L518.95,199.53 L519.35,199.53 L519.75,199.53 L520.15,199.52 L520.55,199.52 L520.95,199.52 L521.35,199.52 L521.75,199.52 L522.15,199.51 L522.55,199.51 L522.95,199.51 L523.35,199.51 L523.75,199.50 L524.15,199.50 L524.55,199.50 L524.95,199.50 L525.35,199.49 L525.75,199.49 L526.15,199.49 L526.55,199.49 L526.95,199.48 L527.35,199.48 L527.75,199.48 L528.15,199.48 L528.55,199.47 L528.95,199.47 L529.35,199.47 L529.75,199.47 L530.15,199.46 L530.55,199.46 L530.95,199.46 L531.35,199.45 L531.75,199.45 L532.15,199.45 L532.55,199.45 L532.95,199.44 L533.35,199.44 L533.75,199.44 L534.15,199.44 L534.55,199.43 L534.95,199.43 L535.35,199.43 L535.75,199.43 L536.15,199.42 L536.55,199.42 L536.95,199.42 L537.35,199.42 L537.75,199.41 L538.15,199.41 L538.55,199.41 L538.95,199.41 L539.35,199.40 L539.75,199.40 L540.15,199.40 L540.55,199.37 L540.95,199.33 L541.35,199.27 L541.75,199.21 L542.15,199.13 L542.55,199.04 L542.95,198.91 L543.35,198.73 L543.75,198.51 L544.15,198.26 L544.55,197.98 L544.95,197.67 L545.35,197.35 L545.75,197.02 L546.15,196.67 L546.55,196.33 L546.95,195.98 L547.35,195.65 L547.75,195.32 L548.15,195.02 L548.55,194.73 L548.95,194.48 L549.35,194.26 L549.75,194.07 L550.15,193.93 L550.55,193.84 L550.95,193.80 L551.35,193.82 L551.75,193.91 L552.15,194.06 L552.55,194.26 L552.95,194.50 L553.35,194.77 L553.75,195.07 L554.15,195.38 L554.55,195.71 L554.95,196.04 L555.35,196.36 L555.75,196.67 L556.15,196.96 L556.55,197.22 L556.95,197.45 L557.35,197.63 L557.75,197.75 L558.15,197.82 L558.55,197.88 L558.95,197.94 L559.35,197.99 L559.75,198.05 L560.15,198.11 L560.55,198.16 L560.95,198.21 L561.35,198.26 L561.75,198.31 L562.15,198.35 L562.55,198.40 L562.95,198.44 L563.35,198.47 L563.75,198.51 L564.15,198.53 L564.55,198.56 L564.95,198.58 L565.35,198.59 L565.75,198.60 L566.15,198.61 L566.55,198.61 L566.95,198.60 L567.35,198.59 L567.75,198.58 L568.15,198.57 L568.55,198.55 L568.95,198.54 L569.35,198.53 L569.75,198.51 L570.15,198.50 L570.55,198.48 L570.95,198.46 L571.35,198.45 L571.75,198.43 L572.15,198.41 L572.55,198.39 L572.95,198.37 L573.35,198.35 L573.75,198.33 L574.15,198.31 L574.55,198.28 L574.95,198.26 L575.35,198.24 L575.75,198.22 L576.15,198.19 L576.55,198.16 L576.95,198.13 L577.35,198.09 L577.75,198.06 L578.15,198.01 L578.55,197.97 L578.95,197.92 L579.35,197.88 L579.75,197.83 L580.15,197.78 L580.55,197.71 L580.95,197.63 L581.35,197.53 L581.75,197.41 L582.15,197.28 L582.55,197.15 L582.95,197.00 L583.35,196.86 L583.75,196.69 L584.15,196.47 L584.55,196.20 L584.95,195.89 L585.35,195.55 L585.75,195.19 L586.15,194.82 L586.55,194.45 L586.95,194.04 L587.35,193.54 L587.75,192.98 L588.15,192.38 L588.55,191.74 L588.95,191.08 L589.35,190.33 L589.75,189.35 L590.15,188.15 L590.55,186.77 L590.95,185.21 L591.35,183.15 L591.75,180.29 L592.15,176.98 L592.55,173.58 L592.95,169.88 L593.35,165.94 L593.75,162.14 L594.15,158.53 L594.55,155.04 L594.95,152.27 L595.35,150.29 L595.75,148.65 L596.15,147.54 L596.55,147.00 L596.95,146.54 L597.35,146.18 L597.75,146.01 L598.15,146.01 L598.55,146.10 L598.95,146.24 L599.35,146.42 L599.75,146.60 L600.15,146.78 L600.55,146.92 L600.95,147.00 L601.35,147.01 L601.75,146.90 L602.15,146.67 L602.55,146.32 L602.95,145.88 L603.35,145.36 L603.75,144.76 L604.15,144.11 L604.55,143.42 L604.95,142.69 L605.35,141.95 L605.75,141.21 L606.15,140.48 L606.55,139.77 L606.95,139.10 L607.35,138.49 L607.75,137.94 L608.15,137.47 L608.55,137.09 L608.95,136.83 L609.35,136.77 L609.75,137.04 L610.15,137.60 L610.55,138.41 L610.95,139.43 L611.35,140.62 L611.75,141.93 L612.15,143.33 L612.55,144.76 L612.95,146.30 L613.35,148.24 L613.75,150.48 L614.15,152.88 L614.55,155.30 L614.95,157.59 L615.35,159.65 L615.75,161.67 L616.15,163.68 L616.55,165.63 L616.95,167.48 L617.35,169.20 L617.75,170.72 L618.15,172.12 L618.55,173.51 L618.95,174.85 L619.35,176.12 L619.75,177.30 L620.15,178.34 L620.55,179.21 L620.95,179.89 L621.35,180.36 L621.75,180.77 L622.15,181.18 L622.55,181.58 L622.95,181.96 L623.35,182.33 L623.75,182.68 L624.15,183.01 L624.55,183.32 L624.95,183.60 L625.35,183.87 L625.75,184.10 L626.15,184.31 L626.55,184.48 L626.95,184.63 L627.35,184.73 L627.75,184.80 L628.15,184.84 L628.55,184.83 L628.95,184.78 L629.35,184.69 L629.75,184.56 L630.15,184.40 L630.55,184.21 L630.95,183.98 L631.35,183.73 L631.75,183.44 L632.15,183.12 L632.55,182.78 L632.95,182.41 L633.35,182.02 L633.75,181.60 L634.15,181.16 L634.55,180.70 L634.95,180.22 L635.35,179.72 L635.75,179.19 L636.15,178.54 L636.55,177.76 L636.95,176.86 L637.35,175.86 L637.75,174.80 L638.15,173.68 L638.55,172.53 L638.95,171.36 L639.35,170.21 L639.75,169.07 L640.15,167.90 L640.55,166.67 L640.95,165.40 L641.35,164.10 L641.75,162.80 L642.15,161.49 L642.55,160.16 L642.95,158.74 L643.35,157.27 L643.75,155.83 L644.15,154.47 L644.55,153.25 L644.95,152.24 L645.35,151.31 L645.75,150.43 L646.15,149.63 L646.55,148.91 L646.95,148.31 L647.35,147.83 L647.75,147.48 L648.15,147.18 L648.55,146.89 L648.95,146.62 L649.35,146.37 L649.75,146.13 L650.15,145.91 L650.55,145.71 L650.95,145.52 L651.35,145.36 L651.75,145.24 L652.15,145.14 L652.55,145.05 L652.95,144.97 L653.35,144.88 L653.75,144.78 L654.15,144.66 L654.55,144.50 L654.95,144.29 L655.35,144.02 L655.75,143.65 L656.15,143.19 L656.55,142.68 L656.95,142.14 L657.35,141.58 L657.75,141.03 L658.15,140.51 L658.55,140.05 L658.95,139.60 L659.35,139.16 L659.75,138.71 L660.15,138.27 L660.55,137.85 L660.95,137.46 L661.35,137.09 L661.75,136.77 L662.15,136.49 L662.55,136.26 L662.95,136.09 L663.35,135.99 L663.75,136.11 L664.15,136.50 L664.55,137.11 L664.95,137.91 L665.35,138.85 L665.75,139.89 L666.15,141.00 L666.55,142.11 L666.95,143.22 L667.35,144.46 L667.75,145.84 L668.15,147.31 L668.55,148.83 L668.95,150.36 L669.35,151.86 L669.75,153.29 L670.15,154.72 L670.55,156.13 L670.95,157.55 L671.35,158.98 L671.75,160.42 L672.15,161.88 L672.55,163.37 L672.95,164.89 L673.35,166.52 L673.60,167.60" fill="none" stroke="#0072BD" stroke-width="3.2" stroke-linejoin="round" stroke-linecap="round"/><line x1="152.82" y1="239.70" x2="152.82" y2="314.90" stroke="#262626" stroke-opacity="0.16" stroke-width="2.5"/><line x1="234.04" y1="239.70" x2="234.04" y2="314.90" stroke="#262626" stroke-opacity="0.16" stroke-width="2.5"/><line x1="315.26" y1="239.70" x2="315.26" y2="314.90" stroke="#262626" stroke-opacity="0.16" stroke-width="2.5"/><line x1="71.60" y1="277.30" x2="331.50" y2="277.30" stroke="#262626" stroke-opacity="0.16" stroke-width="2.5"/><rect x="71.60" y="239.70" width="259.90" height="75.20" fill="none" stroke="#262626" stroke-width="2.6"/><line x1="152.82" y1="314.90" x2="152.82" y2="310.90" stroke="#262626" stroke-width="2.6"/><line x1="152.82" y1="239.70" x2="152.82" y2="243.70" stroke="#262626" stroke-width="2.6"/><line x1="234.04" y1="314.90" x2="234.04" y2="310.90" stroke="#262626" stroke-width="2.6"/><line x1="234.04" y1="239.70" x2="234.04" y2="243.70" stroke="#262626" stroke-width="2.6"/><line x1="315.26" y1="314.90" x2="315.26" y2="310.90" stroke="#262626" stroke-width="2.6"/><line x1="315.26" y1="239.70" x2="315.26" y2="243.70" stroke="#262626" stroke-width="2.6"/><line x1="71.60" y1="277.30" x2="75.60" y2="277.30" stroke="#262626" stroke-width="2.6"/><line x1="331.50" y1="277.30" x2="327.50" y2="277.30" stroke="#262626" stroke-width="2.6"/><text x="71.60" y="339.10" text-anchor="middle" class="tk">0.3</text><text x="152.82" y="339.10" text-anchor="middle" class="tk">0.35</text><text x="234.04" y="339.10" text-anchor="middle" class="tk">0.4</text><text x="315.26" y="339.10" text-anchor="middle" class="tk">0.45</text><text x="66.40" y="322.30" text-anchor="end" class="tk">0</text><text x="66.40" y="284.70" text-anchor="end" class="tk">50</text><text x="66.40" y="247.10" text-anchor="end" class="tk">00</text><path d="M41.30,233.90 V247.10" stroke="#262626" stroke-width="1.75" fill="none"/><path d="M41.70,234.00 Q40.00,236.40 37.20,237.70" stroke="#262626" stroke-width="1.7" fill="none"/><path d="M71.60,257.30 L72.00,256.50 L72.40,255.71 L72.80,254.86 L73.20,254.06 L73.60,253.38 L74.00,252.91 L74.40,252.74 L74.80,253.07 L75.20,254.43 L75.60,256.56 L76.00,259.05 L76.40,261.51 L76.80,263.57 L77.20,265.46 L77.60,267.33 L78.00,269.19 L78.40,271.03 L78.80,272.83 L79.20,274.60 L79.60,276.37 L80.00,278.16 L80.40,279.91 L80.80,281.59 L81.20,283.13 L81.60,284.50 L82.00,285.76 L82.40,286.99 L82.80,288.17 L83.20,289.28 L83.60,290.30 L84.00,291.21 L84.40,291.97 L84.80,292.58 L85.20,293.05 L85.60,293.51 L86.00,293.95 L86.40,294.38 L86.80,294.80 L87.20,295.20 L87.60,295.58 L88.00,295.93 L88.40,296.26 L88.80,296.57 L89.20,296.85 L89.60,297.10 L90.00,297.31 L90.40,297.49 L90.80,297.64 L91.20,297.75 L91.60,297.81 L92.00,297.83 L92.40,297.81 L92.80,297.73 L93.20,297.62 L93.60,297.46 L94.00,297.27 L94.40,297.04 L94.80,296.78 L95.20,296.48 L95.60,296.15 L96.00,295.80 L96.40,295.42 L96.80,295.01 L97.20,294.58 L97.60,294.14 L98.00,293.67 L98.40,293.19 L98.80,292.70 L99.20,292.08 L99.60,291.24 L100.00,290.20 L100.40,289.00 L100.80,287.67 L101.20,286.23 L101.60,284.71 L102.00,283.14 L102.40,281.56 L102.80,279.99 L103.20,278.37 L103.60,276.57 L104.00,274.65 L104.40,272.68 L104.80,270.75 L105.20,268.93 L105.60,267.20 L106.00,265.44 L106.40,263.81 L106.80,262.49 L107.20,261.58 L107.60,260.78 L108.00,260.10 L108.40,259.61 L108.80,259.39 L109.20,259.47 L109.60,259.67 L110.00,259.93 L110.40,260.25 L110.80,260.61 L111.20,261.01 L111.60,261.42 L112.00,261.84 L112.40,262.25 L112.80,262.65 L113.20,263.01 L113.60,263.33 L114.00,263.59 L114.40,263.79 L114.80,263.90 L115.20,263.90 L115.60,263.78 L116.00,263.55 L116.40,263.24 L116.80,262.86 L117.20,262.44 L117.60,261.99 L118.00,261.54 L118.40,261.09 L118.80,260.68 L119.20,260.32 L119.60,260.03 L120.00,259.83 L120.40,259.86 L120.80,260.35 L121.20,261.22 L121.60,262.37 L122.00,263.70 L122.40,265.26 L122.80,267.66 L123.20,270.45 L123.60,273.08 L124.00,275.78 L124.40,279.04 L124.80,283.01 L125.20,287.00 L125.60,290.78 L126.00,294.39 L126.40,297.51 L126.80,300.32 L127.20,302.50 L127.60,304.16 L128.00,305.61 L128.40,306.77 L128.80,307.66 L129.20,308.49 L129.60,309.22 L130.00,309.80 L130.40,310.28 L130.80,310.75 L131.20,311.20 L131.60,311.61 L132.00,311.96 L132.40,312.24 L132.80,312.46 L133.20,312.67 L133.60,312.87 L134.00,313.06 L134.40,313.24 L134.80,313.39 L135.20,313.52 L135.60,313.62 L136.00,313.72 L136.40,313.82 L136.80,313.91 L137.20,314.00 L137.60,314.09 L138.00,314.17 L138.40,314.24 L138.80,314.31 L139.20,314.36 L139.60,314.41 L140.00,314.46 L140.40,314.50 L140.80,314.55 L141.20,314.59 L141.60,314.63 L142.00,314.67 L142.40,314.71 L142.80,314.74 L143.20,314.77 L143.60,314.79 L144.00,314.80 L144.40,314.81 L144.80,314.82 L145.20,314.83 L145.60,314.84 L146.00,314.84 L146.40,314.85 L146.80,314.86 L147.20,314.86 L147.60,314.87 L148.00,314.88 L148.40,314.88 L148.80,314.89 L149.20,314.89 L149.60,314.90 L150.00,314.90 L150.40,314.90 L150.80,314.91 L151.20,314.91 L151.60,314.91 L152.00,314.91 L152.40,314.92 L152.80,314.92 L153.20,314.92 L153.60,314.92 L154.00,314.93 L154.40,314.93 L154.80,314.93 L155.20,314.93 L155.60,314.93 L156.00,314.94 L156.40,314.94 L156.80,314.94 L157.20,314.94 L157.60,314.94 L158.00,314.94 L158.40,314.94 L158.80,314.95 L159.20,314.95 L159.60,314.95 L160.00,314.95 L160.40,314.95 L160.80,314.95 L161.20,314.95 L161.60,314.95 L162.00,314.95 L162.40,314.95 L162.80,314.95 L163.20,314.95 L163.60,314.95 L164.00,314.95 L164.40,314.95 L164.80,314.95 L165.20,314.95 L165.60,314.95 L166.00,314.95 L166.40,314.95 L166.80,314.95 L167.20,314.95 L167.60,314.95 L168.00,314.95 L168.40,314.95 L168.80,314.95 L169.20,314.95 L169.60,314.95 L170.00,314.95 L170.40,314.95 L170.80,314.95 L171.20,314.95 L171.60,314.95 L172.00,314.95 L172.40,314.95 L172.80,314.95 L173.20,314.95 L173.60,314.95 L174.00,314.94 L174.40,314.94 L174.80,314.94 L175.20,314.94 L175.60,314.94 L176.00,314.94 L176.40,314.94 L176.80,314.94 L177.20,314.94 L177.60,314.94 L178.00,314.93 L178.40,314.93 L178.80,314.93 L179.20,314.93 L179.60,314.93 L180.00,314.93 L180.40,314.93 L180.80,314.93 L181.20,314.93 L181.60,314.92 L182.00,314.92 L182.40,314.92 L182.80,314.92 L183.20,314.92 L183.60,314.92 L184.00,314.92 L184.40,314.92 L184.80,314.91 L185.20,314.91 L185.60,314.91 L186.00,314.91 L186.40,314.91 L186.80,314.91 L187.20,314.91 L187.60,314.91 L188.00,314.91 L188.40,314.90 L188.80,314.90 L189.20,314.90 L189.60,314.90 L190.00,314.90 L190.40,314.90 L190.80,314.88 L191.20,314.87 L191.60,314.84 L192.00,314.81 L192.40,314.78 L192.80,314.74 L193.20,314.71 L193.60,314.66 L194.00,314.62 L194.40,314.57 L194.80,314.48 L195.20,314.35 L195.60,314.18 L196.00,313.99 L196.40,313.76 L196.80,313.52 L197.20,313.27 L197.60,313.00 L198.00,312.73 L198.40,312.46 L198.80,312.20 L199.20,311.95 L199.60,311.72 L200.00,311.51 L200.40,311.33 L200.80,311.19 L201.20,311.08 L201.60,311.02 L202.00,311.00 L202.40,311.06 L202.80,311.17 L203.20,311.35 L203.60,311.57 L204.00,311.82 L204.40,312.10 L204.80,312.40 L205.20,312.70 L205.60,313.00 L206.00,313.29 L206.40,313.55 L206.80,313.79 L207.20,313.98 L207.60,314.12 L208.00,314.20 L208.40,314.25 L208.80,314.29 L209.20,314.33 L209.60,314.37 L210.00,314.41 L210.40,314.45 L210.80,314.49 L211.20,314.52 L211.60,314.55 L212.00,314.58 L212.40,314.61 L212.80,314.63 L213.20,314.65 L213.60,314.67 L214.00,314.68 L214.40,314.69 L214.80,314.70 L215.20,314.70 L215.60,314.70 L216.00,314.71 L216.40,314.71 L216.80,314.71 L217.20,314.71 L217.60,314.71 L218.00,314.70 L218.40,314.70 L218.80,314.70 L219.20,314.70 L219.60,314.69 L220.00,314.69 L220.40,314.69 L220.80,314.68 L221.20,314.68 L221.60,314.67 L222.00,314.67 L222.40,314.66 L222.80,314.66 L223.20,314.65 L223.60,314.64 L224.00,314.64 L224.40,314.63 L224.80,314.63 L225.20,314.62 L225.60,314.62 L226.00,314.61 L226.40,314.61 L226.80,314.60 L227.20,314.60 L227.60,314.59 L228.00,314.59 L228.40,314.58 L228.80,314.58 L229.20,314.58 L229.60,314.57 L230.00,314.57 L230.40,314.57 L230.80,314.57 L231.20,314.57 L231.60,314.57 L232.00,314.57 L232.40,314.57 L232.80,314.57 L233.20,314.58 L233.60,314.58 L234.00,314.58 L234.40,314.59 L234.80,314.60 L235.20,314.61 L235.60,314.66 L236.00,314.70 L236.40,314.70 L236.80,314.67 L237.20,314.60 L237.60,314.51 L238.00,314.39 L238.40,314.27 L238.80,314.13 L239.20,314.00 L239.60,313.87 L240.00,313.68 L240.40,313.42 L240.80,313.09 L241.20,312.72 L241.60,312.31 L242.00,311.87 L242.40,311.41 L242.80,310.91 L243.20,310.28 L243.60,309.53 L244.00,308.70 L244.40,307.82 L244.80,306.91 L245.20,306.00 L245.60,305.06 L246.00,304.04 L246.40,302.91 L246.80,301.69 L247.20,300.35 L247.60,298.89 L248.00,297.19 L248.40,295.10 L248.80,292.76 L249.20,290.31 L249.60,287.91 L250.00,285.47 L250.40,282.96 L250.80,280.43 L251.20,277.92 L251.60,275.32 L252.00,272.53 L252.40,270.08 L252.80,268.49 L253.20,267.35 L253.60,266.36 L254.00,265.51 L254.40,264.78 L254.80,264.16 L255.20,263.63 L255.60,263.18 L256.00,262.76 L256.40,262.35 L256.80,261.96 L257.20,261.58 L257.60,261.20 L258.00,260.83 L258.40,260.47 L258.80,260.12 L259.20,259.77 L259.60,259.42 L260.00,259.06 L260.40,258.69 L260.80,258.30 L261.20,257.85 L261.60,257.34 L262.00,256.78 L262.40,256.21 L262.80,255.64 L263.20,255.10 L263.60,254.61 L264.00,254.19 L264.40,253.86 L264.80,253.74 L265.20,254.01 L265.60,254.62 L266.00,255.50 L266.40,256.60 L266.80,257.84 L267.20,259.16 L267.60,260.50 L268.00,261.99 L268.40,263.75 L268.80,265.71 L269.20,267.79 L269.60,269.92 L270.00,272.03 L270.40,274.05 L270.80,275.93 L271.20,277.84 L271.60,279.75 L272.00,281.64 L272.40,283.44 L272.80,285.13 L273.20,286.65 L273.60,288.02 L274.00,289.33 L274.40,290.59 L274.80,291.78 L275.20,292.90 L275.60,293.92 L276.00,294.84 L276.40,295.64 L276.80,296.34 L277.20,297.03 L277.60,297.70 L278.00,298.36 L278.40,298.97 L278.80,299.55 L279.20,300.06 L279.60,300.50 L280.00,300.85 L280.40,301.10 L280.80,301.30 L281.20,301.49 L281.60,301.68 L282.00,301.85 L282.40,302.02 L282.80,302.17 L283.20,302.30 L283.60,302.41 L284.00,302.50 L284.40,302.57 L284.80,302.60 L285.20,302.61 L285.60,302.58 L286.00,302.52 L286.40,302.43 L286.80,302.32 L287.20,302.18 L287.60,302.02 L288.00,301.84 L288.40,301.64 L288.80,301.42 L289.20,301.20 L289.60,300.96 L290.00,300.71 L290.40,300.46 L290.80,300.18 L291.20,299.80 L291.60,299.33 L292.00,298.79 L292.40,298.18 L292.80,297.53 L293.20,296.84 L293.60,296.12 L294.00,295.30 L294.40,294.39 L294.80,293.42 L295.20,292.40 L295.60,291.36 L296.00,290.34 L296.40,289.36 L296.80,288.42 L297.20,287.50 L297.60,286.57 L298.00,285.62 L298.40,284.62 L298.80,283.56 L299.20,282.40 L299.60,281.05 L300.00,279.58 L300.40,278.09 L300.80,276.66 L301.20,275.35 L301.60,274.04 L302.00,272.74 L302.40,271.52 L302.80,270.41 L303.20,269.50 L303.60,268.75 L304.00,268.07 L304.40,267.44 L304.80,266.87 L305.20,266.35 L305.60,265.90 L306.00,265.50 L306.40,265.14 L306.80,264.79 L307.20,264.46 L307.60,264.14 L308.00,263.83 L308.40,263.53 L308.80,263.24 L309.20,262.96 L309.60,262.70 L310.00,262.46 L310.40,262.22 L310.80,261.98 L311.20,261.74 L311.60,261.49 L312.00,261.22 L312.40,260.92 L312.80,260.60 L313.20,260.25 L313.60,259.88 L314.00,259.48 L314.40,259.06 L314.80,258.62 L315.20,258.16 L315.60,257.67 L316.00,257.09 L316.40,256.43 L316.80,255.78 L317.20,255.20 L317.60,254.71 L318.00,254.27 L318.40,253.89 L318.80,253.61 L319.20,253.44 L319.60,253.42 L320.00,253.68 L320.40,254.21 L320.80,254.94 L321.20,255.84 L321.60,256.87 L322.00,257.96 L322.40,259.09 L322.80,260.42 L323.20,261.97 L323.60,263.68 L324.00,265.46 L324.40,267.26 L324.80,269.00 L325.20,270.60 L325.60,272.12 L326.00,273.64 L326.40,275.14 L326.80,276.61 L327.20,278.04 L327.60,279.40 L328.00,280.69 L328.40,281.90 L328.80,283.07 L329.20,284.21 L329.60,285.32 L330.00,286.38 L330.40,287.39 L330.80,288.33 L331.20,289.20 L331.50,289.80" fill="none" stroke="#0072BD" stroke-width="3.2" stroke-linejoin="round" stroke-linecap="round"/><line x1="494.97" y1="239.70" x2="494.97" y2="314.90" stroke="#262626" stroke-opacity="0.16" stroke-width="2.5"/><line x1="576.19" y1="239.70" x2="576.19" y2="314.90" stroke="#262626" stroke-opacity="0.16" stroke-width="2.5"/><line x1="657.41" y1="239.70" x2="657.41" y2="314.90" stroke="#262626" stroke-opacity="0.16" stroke-width="2.5"/><line x1="413.75" y1="277.30" x2="673.65" y2="277.30" stroke="#262626" stroke-opacity="0.16" stroke-width="2.5"/><rect x="413.75" y="239.70" width="259.90" height="75.20" fill="none" stroke="#262626" stroke-width="2.6"/><line x1="494.97" y1="314.90" x2="494.97" y2="310.90" stroke="#262626" stroke-width="2.6"/><line x1="494.97" y1="239.70" x2="494.97" y2="243.70" stroke="#262626" stroke-width="2.6"/><line x1="576.19" y1="314.90" x2="576.19" y2="310.90" stroke="#262626" stroke-width="2.6"/><line x1="576.19" y1="239.70" x2="576.19" y2="243.70" stroke="#262626" stroke-width="2.6"/><line x1="657.41" y1="314.90" x2="657.41" y2="310.90" stroke="#262626" stroke-width="2.6"/><line x1="657.41" y1="239.70" x2="657.41" y2="243.70" stroke="#262626" stroke-width="2.6"/><line x1="413.75" y1="277.30" x2="417.75" y2="277.30" stroke="#262626" stroke-width="2.6"/><line x1="673.65" y1="277.30" x2="669.65" y2="277.30" stroke="#262626" stroke-width="2.6"/><text x="413.75" y="339.10" text-anchor="middle" class="tk">0.3</text><text x="494.97" y="339.10" text-anchor="middle" class="tk">0.35</text><text x="576.19" y="339.10" text-anchor="middle" class="tk">0.4</text><text x="657.41" y="339.10" text-anchor="middle" class="tk">0.45</text><text x="408.55" y="322.30" text-anchor="end" class="tk">0</text><text x="408.55" y="284.70" text-anchor="end" class="tk">50</text><text x="408.55" y="247.10" text-anchor="end" class="tk">00</text><path d="M383.45,233.90 V247.10" stroke="#262626" stroke-width="1.75" fill="none"/><path d="M383.85,234.00 Q382.15,236.40 379.35,237.70" stroke="#262626" stroke-width="1.7" fill="none"/><path d="M413.75,253.30 L414.15,254.13 L414.55,255.29 L414.95,256.62 L415.35,258.08 L415.75,259.63 L416.15,261.25 L416.55,262.89 L416.95,264.59 L417.35,266.40 L417.75,268.29 L418.15,270.21 L418.55,272.10 L418.95,273.94 L419.35,275.69 L419.75,277.45 L420.15,279.20 L420.55,280.89 L420.95,282.49 L421.35,283.98 L421.75,285.35 L422.15,286.73 L422.55,288.09 L422.95,289.40 L423.35,290.62 L423.75,291.72 L424.15,292.67 L424.55,293.43 L424.95,293.99 L425.35,294.50 L425.75,294.99 L426.15,295.47 L426.55,295.94 L426.95,296.39 L427.35,296.82 L427.75,297.23 L428.15,297.61 L428.55,297.98 L428.95,298.32 L429.35,298.63 L429.75,298.91 L430.15,299.17 L430.55,299.39 L430.95,299.59 L431.35,299.74 L431.75,299.86 L432.15,299.95 L432.55,299.99 L432.95,300.00 L433.35,299.95 L433.75,299.87 L434.15,299.74 L434.55,299.56 L434.95,299.35 L435.35,299.10 L435.75,298.82 L436.15,298.50 L436.55,298.15 L436.95,297.76 L437.35,297.35 L437.75,296.92 L438.15,296.46 L438.55,295.97 L438.95,295.47 L439.35,294.95 L439.75,294.41 L440.15,293.82 L440.55,293.05 L440.95,292.13 L441.35,291.07 L441.75,289.89 L442.15,288.62 L442.55,287.29 L442.95,285.90 L443.35,284.50 L443.75,283.09 L444.15,281.71 L444.55,280.35 L444.95,278.92 L445.35,277.44 L445.75,275.89 L446.15,274.29 L446.55,272.63 L446.95,270.92 L447.35,269.17 L447.75,267.11 L448.15,264.63 L448.55,263.42 L448.95,262.71 L449.35,262.10 L449.75,261.60 L450.15,261.23 L450.55,261.01 L450.95,260.95 L451.35,261.06 L451.75,261.23 L452.15,261.44 L452.55,261.67 L452.95,261.92 L453.35,262.18 L453.75,262.44 L454.15,262.70 L454.55,262.95 L454.95,263.18 L455.35,263.39 L455.75,263.56 L456.15,263.69 L456.55,263.74 L456.95,263.69 L457.35,263.54 L457.75,263.31 L458.15,263.03 L458.55,262.71 L458.95,262.38 L459.35,262.04 L459.75,261.72 L460.15,261.44 L460.55,261.21 L460.95,261.06 L461.35,261.00 L461.75,261.40 L462.15,262.36 L462.55,263.70 L462.95,265.27 L463.35,266.91 L463.75,268.62 L464.15,270.85 L464.55,273.31 L464.95,276.10 L465.35,279.54 L465.75,283.55 L466.15,287.47 L466.55,291.30 L466.95,294.85 L467.35,297.75 L467.75,300.28 L468.15,302.29 L468.55,303.86 L468.95,305.25 L469.35,306.43 L469.75,307.39 L470.15,308.30 L470.55,309.11 L470.95,309.74 L471.35,310.22 L471.75,310.67 L472.15,311.10 L472.55,311.49 L472.95,311.83 L473.35,312.11 L473.75,312.34 L474.15,312.57 L474.55,312.78 L474.95,312.99 L475.35,313.19 L475.75,313.36 L476.15,313.50 L476.55,313.61 L476.95,313.71 L477.35,313.81 L477.75,313.90 L478.15,313.99 L478.55,314.08 L478.95,314.16 L479.35,314.23 L479.75,314.30 L480.15,314.36 L480.55,314.41 L480.95,314.45 L481.35,314.50 L481.75,314.54 L482.15,314.59 L482.55,314.63 L482.95,314.67 L483.35,314.71 L483.75,314.74 L484.15,314.77 L484.55,314.79 L484.95,314.80 L485.35,314.81 L485.75,314.81 L486.15,314.82 L486.55,314.83 L486.95,314.84 L487.35,314.84 L487.75,314.85 L488.15,314.86 L488.55,314.86 L488.95,314.87 L489.35,314.87 L489.75,314.88 L490.15,314.88 L490.55,314.89 L490.95,314.89 L491.35,314.89 L491.75,314.90 L492.15,314.90 L492.55,314.90 L492.95,314.91 L493.35,314.91 L493.75,314.91 L494.15,314.92 L494.55,314.92 L494.95,314.92 L495.35,314.92 L495.75,314.92 L496.15,314.93 L496.55,314.93 L496.95,314.93 L497.35,314.93 L497.75,314.93 L498.15,314.94 L498.55,314.94 L498.95,314.94 L499.35,314.94 L499.75,314.94 L500.15,314.94 L500.55,314.95 L500.95,314.95 L501.35,314.95 L501.75,314.95 L502.15,314.95 L502.55,314.95 L502.95,314.95 L503.35,314.95 L503.75,314.95 L504.15,314.95 L504.55,314.95 L504.95,314.95 L505.35,314.95 L505.75,314.95 L506.15,314.96 L506.55,314.96 L506.95,314.96 L507.35,314.96 L507.75,314.96 L508.15,314.96 L508.55,314.96 L508.95,314.96 L509.35,314.95 L509.75,314.95 L510.15,314.95 L510.55,314.95 L510.95,314.95 L511.35,314.95 L511.75,314.95 L512.15,314.95 L512.55,314.95 L512.95,314.95 L513.35,314.95 L513.75,314.95 L514.15,314.95 L514.55,314.95 L514.95,314.95 L515.35,314.95 L515.75,314.94 L516.15,314.94 L516.55,314.94 L516.95,314.94 L517.35,314.94 L517.75,314.94 L518.15,314.94 L518.55,314.94 L518.95,314.94 L519.35,314.93 L519.75,314.93 L520.15,314.93 L520.55,314.93 L520.95,314.93 L521.35,314.93 L521.75,314.93 L522.15,314.92 L522.55,314.92 L522.95,314.92 L523.35,314.92 L523.75,314.92 L524.15,314.92 L524.55,314.91 L524.95,314.91 L525.35,314.91 L525.75,314.91 L526.15,314.91 L526.55,314.91 L526.95,314.90 L527.35,314.90 L527.75,314.90 L528.15,314.90 L528.55,314.88 L528.95,314.84 L529.35,314.79 L529.75,314.74 L530.15,314.68 L530.55,314.59 L530.95,314.48 L531.35,314.34 L531.75,314.18 L532.15,314.00 L532.55,313.82 L532.95,313.63 L533.35,313.43 L533.75,313.24 L534.15,313.05 L534.55,312.88 L534.95,312.72 L535.35,312.58 L535.75,312.46 L536.15,312.37 L536.55,312.32 L536.95,312.30 L537.35,312.33 L537.75,312.40 L538.15,312.50 L538.55,312.64 L538.95,312.80 L539.35,312.99 L539.75,313.18 L540.15,313.38 L540.55,313.57 L540.95,313.76 L541.35,313.94 L541.75,314.10 L542.15,314.23 L542.55,314.33 L542.95,314.40 L543.35,314.43 L543.75,314.47 L544.15,314.50 L544.55,314.53 L544.95,314.56 L545.35,314.59 L545.75,314.62 L546.15,314.65 L546.55,314.68 L546.95,314.70 L547.35,314.72 L547.75,314.74 L548.15,314.76 L548.55,314.77 L548.95,314.78 L549.35,314.79 L549.75,314.80 L550.15,314.80 L550.55,314.80 L550.95,314.80 L551.35,314.81 L551.75,314.81 L552.15,314.81 L552.55,314.81 L552.95,314.81 L553.35,314.81 L553.75,314.81 L554.15,314.82 L554.55,314.82 L554.95,314.82 L555.35,314.82 L555.75,314.82 L556.15,314.82 L556.55,314.82 L556.95,314.83 L557.35,314.83 L557.75,314.83 L558.15,314.83 L558.55,314.83 L558.95,314.83 L559.35,314.83 L559.75,314.83 L560.15,314.83 L560.55,314.83 L560.95,314.83 L561.35,314.84 L561.75,314.84 L562.15,314.84 L562.55,314.84 L562.95,314.84 L563.35,314.84 L563.75,314.84 L564.15,314.84 L564.55,314.84 L564.95,314.84 L565.35,314.84 L565.75,314.84 L566.15,314.83 L566.55,314.83 L566.95,314.83 L567.35,314.83 L567.75,314.83 L568.15,314.83 L568.55,314.83 L568.95,314.83 L569.35,314.83 L569.75,314.83 L570.15,314.82 L570.55,314.82 L570.95,314.82 L571.35,314.82 L571.75,314.82 L572.15,314.81 L572.55,314.81 L572.95,314.81 L573.35,314.80 L573.75,314.80 L574.15,314.80 L574.55,314.79 L574.95,314.79 L575.35,314.78 L575.75,314.77 L576.15,314.76 L576.55,314.74 L576.95,314.73 L577.35,314.72 L577.75,314.71 L578.15,314.69 L578.55,314.67 L578.95,314.63 L579.35,314.58 L579.75,314.52 L580.15,314.45 L580.55,314.38 L580.95,314.31 L581.35,314.21 L581.75,314.02 L582.15,313.78 L582.55,313.47 L582.95,313.12 L583.35,312.73 L583.75,312.32 L584.15,311.89 L584.55,311.46 L584.95,311.00 L585.35,310.40 L585.75,309.67 L586.15,308.84 L586.55,307.92 L586.95,306.94 L587.35,305.93 L587.75,304.82 L588.15,303.51 L588.55,302.06 L588.95,300.51 L589.35,298.90 L589.75,297.30 L590.15,295.65 L590.55,293.89 L590.95,291.98 L591.35,289.90 L591.75,287.57 L592.15,284.60 L592.55,281.34 L592.95,278.29 L593.35,275.74 L593.75,273.31 L594.15,271.26 L594.55,269.87 L594.95,268.88 L595.35,268.02 L595.75,267.27 L596.15,266.64 L596.55,266.11 L596.95,265.65 L597.35,265.23 L597.75,264.82 L598.15,264.41 L598.55,263.98 L598.95,263.52 L599.35,263.00 L599.75,262.45 L600.15,261.87 L600.55,261.28 L600.95,260.68 L601.35,260.08 L601.75,259.50 L602.15,258.93 L602.55,258.33 L602.95,257.69 L603.35,257.05 L603.75,256.44 L604.15,255.91 L604.55,255.48 L604.95,255.20 L605.35,255.10 L605.75,255.35 L606.15,256.13 L606.55,257.33 L606.95,258.85 L607.35,260.58 L607.75,262.42 L608.15,264.26 L608.55,266.01 L608.95,267.57 L609.35,269.10 L609.75,270.65 L610.15,272.23 L610.55,273.84 L610.95,275.48 L611.35,277.16 L611.75,278.88 L612.15,280.74 L612.55,282.80 L612.95,284.93 L613.35,286.96 L613.75,288.76 L614.15,290.21 L614.55,291.51 L614.95,292.73 L615.35,293.87 L615.75,294.91 L616.15,295.83 L616.55,296.63 L616.95,297.29 L617.35,297.83 L617.75,298.35 L618.15,298.86 L618.55,299.35 L618.95,299.81 L619.35,300.24 L619.75,300.63 L620.15,300.97 L620.55,301.25 L620.95,301.48 L621.35,301.70 L621.75,301.92 L622.15,302.14 L622.55,302.35 L622.95,302.55 L623.35,302.73 L623.75,302.90 L624.15,303.04 L624.55,303.16 L624.95,303.24 L625.35,303.30 L625.75,303.31 L626.15,303.30 L626.55,303.25 L626.95,303.18 L627.35,303.08 L627.75,302.96 L628.15,302.81 L628.55,302.65 L628.95,302.47 L629.35,302.28 L629.75,302.07 L630.15,301.85 L630.55,301.63 L630.95,301.40 L631.35,301.16 L631.75,300.92 L632.15,300.69 L632.55,300.44 L632.95,300.11 L633.35,299.71 L633.75,299.24 L634.15,298.71 L634.55,298.13 L634.95,297.50 L635.35,296.84 L635.75,296.16 L636.15,295.45 L636.55,294.72 L636.95,293.91 L637.35,293.01 L637.75,292.03 L638.15,290.99 L638.55,289.89 L638.95,288.76 L639.35,287.59 L639.75,286.41 L640.15,285.23 L640.55,284.05 L640.95,282.80 L641.35,281.45 L641.75,280.07 L642.15,278.75 L642.55,277.54 L642.95,276.44 L643.35,275.36 L643.75,274.32 L644.15,273.34 L644.55,272.44 L644.95,271.62 L645.35,270.92 L645.75,270.28 L646.15,269.66 L646.55,269.07 L646.95,268.50 L647.35,267.95 L647.75,267.43 L648.15,266.93 L648.55,266.45 L648.95,265.99 L649.35,265.55 L649.75,265.13 L650.15,264.73 L650.55,264.33 L650.95,263.95 L651.35,263.57 L651.75,263.19 L652.15,262.82 L652.55,262.45 L652.95,262.08 L653.35,261.71 L653.75,261.33 L654.15,260.95 L654.55,260.55 L654.95,260.13 L655.35,259.70 L655.75,259.25 L656.15,258.79 L656.55,258.34 L656.95,257.89 L657.35,257.46 L657.75,257.05 L658.15,256.67 L658.55,256.33 L658.95,256.03 L659.35,255.77 L659.75,255.75 L660.15,256.02 L660.55,256.54 L660.95,257.25 L661.35,258.12 L661.75,259.09 L662.15,260.11 L662.55,261.23 L662.95,262.71 L663.35,264.44 L663.75,266.25 L664.15,267.99 L664.55,269.58 L664.95,271.17 L665.35,272.74 L665.75,274.27 L666.15,275.73 L666.55,277.11 L666.95,278.46 L667.35,279.78 L667.75,281.06 L668.15,282.27 L668.55,283.41 L668.95,284.44 L669.35,285.37 L669.75,286.26 L670.15,287.10 L670.55,287.89 L670.95,288.65 L671.35,289.37 L671.75,290.05 L672.15,290.71 L672.55,291.34 L672.95,291.95 L673.35,292.50 L673.60,292.80" fill="none" stroke="#0072BD" stroke-width="3.2" stroke-linejoin="round" stroke-linecap="round"/><text x="102.85" y="74.70" class="pl">(a)</text><text x="445.30" y="74.90" class="pl">(b)</text><text x="101.60" y="191.00" class="pl">(c)</text><text x="444.70" y="192.60" class="pl">(d)</text><text x="101.20" y="306.80" class="pl">(e)</text><text x="441.80" y="307.20" class="pl">(f)</text><text x="263.9" y="359.8" class="al" letter-spacing="0.24">Frequency</text><text x="393.8" y="359.8" class="al" letter-spacing="0.6">(THz)</text><g transform="translate(24.3,0) rotate(-90)"><text x="-272.7" y="0" class="al" letter-spacing="0.95">Transmittance</text><text x="-92.3" y="0" class="al" letter-spacing="-0.75">(%)</text></g></svg>
</body></html>
